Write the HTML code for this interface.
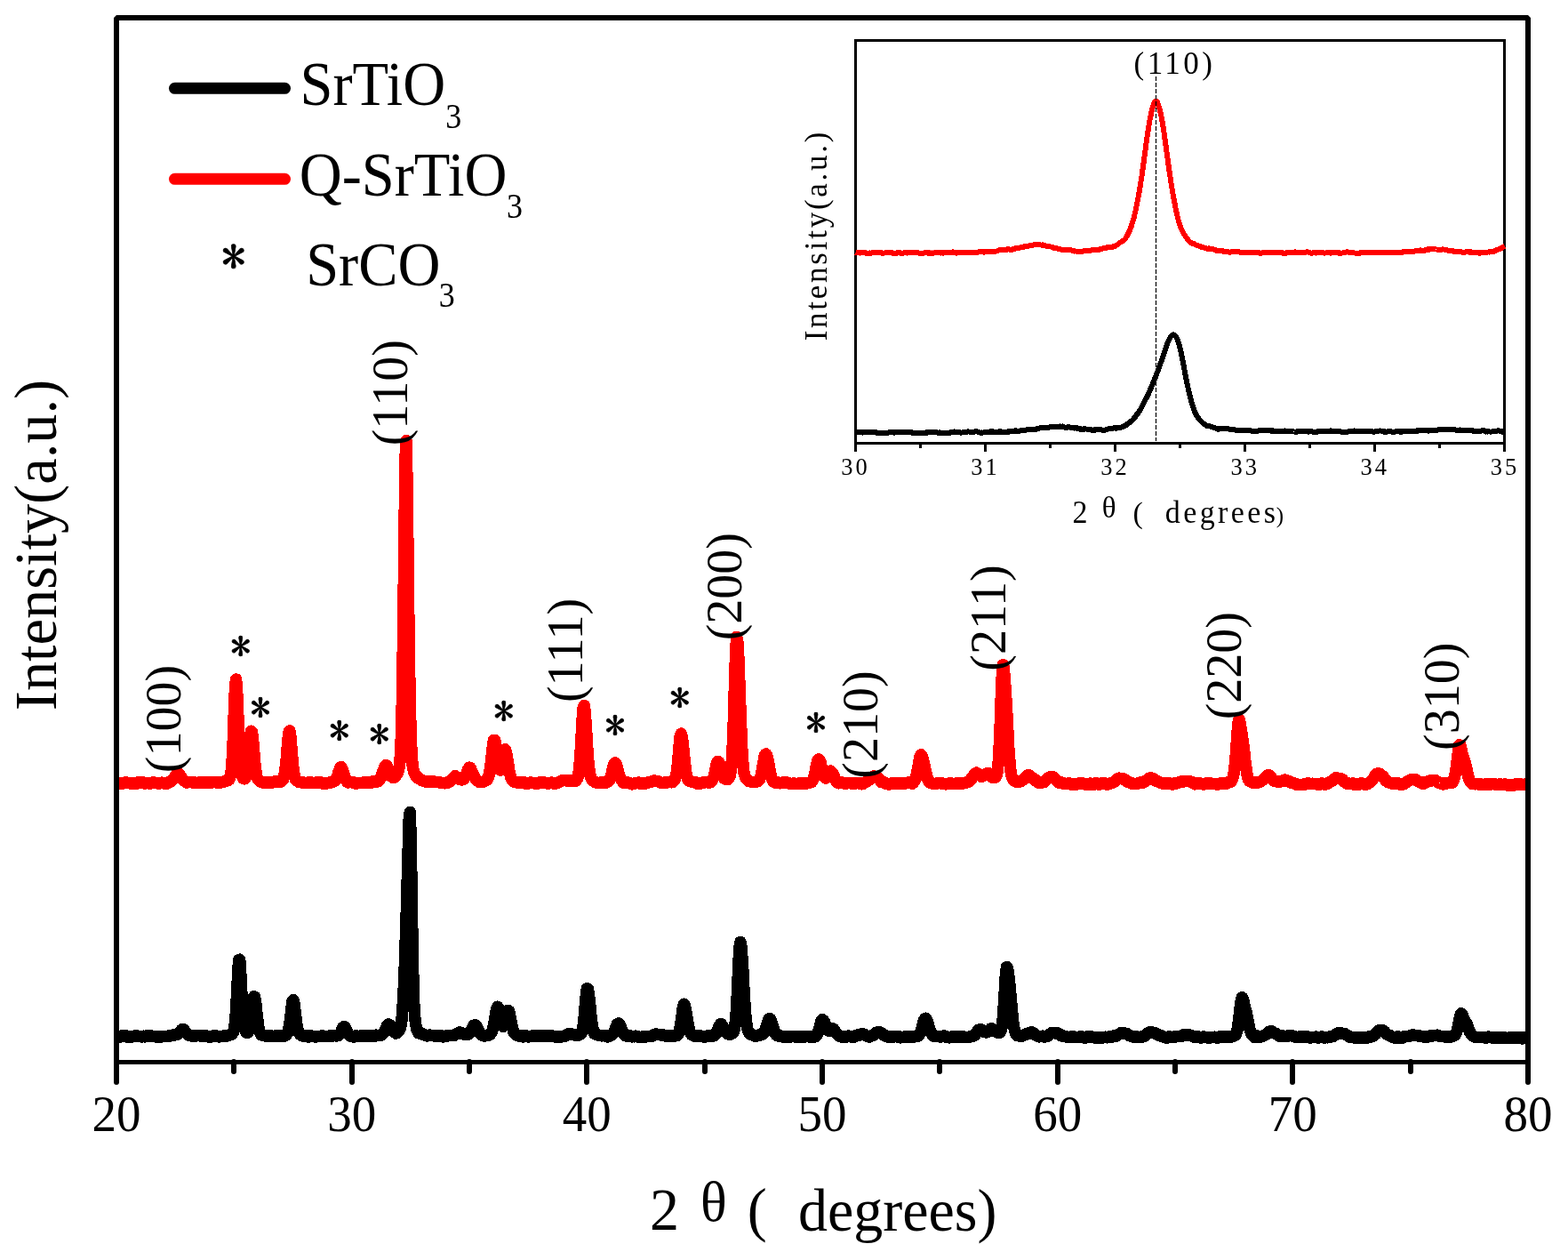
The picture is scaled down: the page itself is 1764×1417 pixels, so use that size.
<!DOCTYPE html><html><head><meta charset="utf-8"><title>XRD</title><style>html,body{margin:0;padding:0;background:#fff;overflow:hidden}svg{display:block}text{font-family:'Liberation Serif',serif;fill:#000}</style></head><body>
<svg width="1764" height="1417" viewBox="0 0 1764 1417">
<rect width="1764" height="1417" fill="#fff"/>
<path d="M131.0,1166.3 132.1,1166.2 133.1,1166.1 134.2,1166.1 135.2,1166.1 136.3,1165.4 137.4,1164.9 138.4,1164.6 139.5,1164.6 140.5,1164.7 141.6,1164.7 142.6,1165.3 143.7,1166.3 144.8,1165.6 145.8,1166.1 146.9,1165.9 147.9,1166.0 149.0,1165.4 150.1,1165.5 151.1,1165.7 152.2,1164.9 153.2,1164.8 154.3,1165.1 155.3,1165.2 156.4,1165.3 157.5,1165.7 158.5,1165.3 159.6,1165.9 160.6,1165.6 161.7,1165.2 162.8,1165.8 163.8,1165.2 164.9,1165.0 165.9,1164.9 167.0,1164.7 168.1,1165.1 169.1,1164.9 170.2,1165.0 171.2,1165.5 172.3,1165.4 173.3,1165.3 174.4,1165.7 175.5,1166.0 176.5,1165.6 177.6,1166.0 178.6,1165.9 179.7,1165.8 180.8,1165.8 181.8,1165.9 182.9,1165.6 183.9,1165.4 185.0,1165.3 186.1,1165.4 187.1,1165.5 188.2,1165.5 189.2,1165.3 190.3,1165.0 191.3,1165.1 192.4,1164.5 193.5,1164.2 194.5,1164.6 195.6,1164.3 196.6,1163.9 197.7,1163.7 198.8,1163.4 199.8,1163.1 200.9,1162.2 201.9,1160.9 203.0,1159.7 204.0,1158.5 205.1,1157.6 206.2,1157.5 207.2,1158.2 208.3,1159.9 209.3,1161.8 210.4,1162.7 211.5,1163.9 212.5,1164.3 213.6,1164.7 214.6,1164.5 215.7,1165.1 216.8,1165.0 217.8,1164.9 218.9,1164.9 219.9,1164.9 221.0,1164.8 222.0,1164.7 223.1,1164.6 224.2,1164.6 225.2,1164.5 226.3,1165.2 227.3,1165.1 228.4,1165.0 229.5,1164.7 230.5,1164.5 231.6,1164.9 232.6,1165.0 233.7,1165.5 234.7,1165.9 235.8,1165.8 236.9,1166.2 237.9,1165.9 239.0,1165.7 240.0,1165.2 241.1,1164.7 242.2,1164.4 243.2,1165.1 244.3,1165.6 245.3,1165.5 246.4,1165.9 247.5,1165.5 248.5,1165.3 249.6,1165.3 250.6,1165.4 251.7,1165.1 252.7,1165.2 253.8,1164.9 254.9,1165.2 255.9,1164.7 257.0,1164.8 258.0,1164.0 259.1,1163.8 260.2,1163.5 261.2,1162.6 262.3,1161.1 263.3,1157.8 264.4,1150.2 265.5,1137.9 266.5,1118.7 267.6,1096.2 268.6,1079.7 269.7,1079.2 270.7,1093.8 271.8,1115.3 272.9,1134.3 273.9,1147.5 275.0,1155.5 276.0,1159.3 277.1,1161.2 278.2,1161.5 279.2,1160.7 280.3,1158.7 281.3,1154.7 282.4,1147.7 283.4,1137.5 284.5,1127.5 285.6,1120.8 286.6,1121.1 287.7,1127.7 288.7,1137.5 289.8,1147.2 290.9,1155.1 291.9,1159.7 293.0,1162.1 294.0,1163.8 295.1,1163.6 296.2,1163.9 297.2,1164.2 298.3,1164.6 299.3,1165.2 300.4,1164.9 301.4,1164.6 302.5,1164.5 303.6,1165.0 304.6,1164.9 305.7,1165.6 306.7,1165.3 307.8,1165.3 308.9,1165.6 309.9,1165.3 311.0,1164.7 312.0,1164.9 313.1,1165.2 314.1,1165.0 315.2,1164.9 316.3,1165.2 317.3,1165.5 318.4,1165.0 319.4,1164.8 320.5,1164.9 321.6,1164.4 322.6,1163.0 323.7,1161.4 324.7,1158.1 325.8,1152.0 326.9,1143.5 327.9,1133.8 329.0,1126.2 330.0,1124.5 331.1,1128.9 332.1,1137.9 333.2,1146.9 334.3,1154.7 335.3,1159.2 336.4,1161.5 337.4,1163.1 338.5,1163.7 339.6,1164.7 340.6,1165.1 341.7,1164.9 342.7,1164.5 343.8,1164.6 344.9,1165.1 345.9,1165.2 347.0,1166.1 348.0,1165.7 349.1,1164.8 350.1,1165.1 351.2,1165.1 352.3,1165.7 353.3,1165.7 354.4,1165.9 355.4,1165.8 356.5,1165.8 357.6,1165.6 358.6,1165.6 359.7,1165.5 360.7,1165.2 361.8,1165.0 362.8,1165.4 363.9,1165.2 365.0,1165.3 366.0,1165.5 367.1,1165.6 368.1,1165.6 369.2,1165.6 370.3,1165.7 371.3,1164.8 372.4,1165.0 373.4,1164.6 374.5,1164.9 375.6,1164.7 376.6,1164.5 377.7,1164.8 378.7,1165.0 379.8,1164.7 380.8,1164.7 381.9,1163.4 383.0,1161.6 384.0,1159.7 385.1,1157.2 386.1,1155.1 387.2,1154.7 388.3,1155.2 389.3,1157.7 390.4,1160.2 391.4,1162.5 392.5,1163.9 393.5,1164.5 394.6,1165.3 395.7,1165.0 396.7,1165.5 397.8,1166.0 398.8,1165.2 399.9,1165.1 401.0,1165.1 402.0,1165.1 403.1,1165.7 404.1,1165.4 405.2,1165.4 406.3,1164.9 407.3,1164.5 408.4,1164.7 409.4,1165.5 410.5,1165.3 411.5,1165.0 412.6,1165.1 413.7,1165.2 414.7,1165.0 415.8,1164.9 416.8,1164.6 417.9,1165.2 419.0,1165.1 420.0,1165.5 421.1,1165.5 422.1,1164.9 423.2,1164.2 424.3,1164.7 425.3,1164.3 426.4,1164.7 427.4,1164.3 428.5,1164.3 429.5,1163.9 430.6,1162.7 431.7,1161.2 432.7,1159.3 433.8,1157.1 434.8,1155.0 435.9,1152.6 437.0,1151.9 438.0,1152.4 439.1,1153.5 440.1,1155.4 441.2,1156.4 442.2,1158.3 443.3,1159.9 444.4,1161.1 445.4,1162.1 446.5,1161.6 447.5,1160.7 448.6,1159.4 449.7,1157.7 450.7,1154.8 451.8,1148.3 452.8,1136.9 453.9,1119.1 455.0,1095.2 456.0,1065.2 457.1,1032.1 458.1,995.3 459.2,956.4 460.2,921.8 461.3,913.4 462.4,953.7 463.4,1023.2 464.5,1085.7 465.5,1124.3 466.6,1143.3 467.7,1152.0 468.7,1156.8 469.8,1160.0 470.8,1161.8 471.9,1162.2 472.9,1162.1 474.0,1161.9 475.1,1162.5 476.1,1163.3 477.2,1163.8 478.2,1163.9 479.3,1164.5 480.4,1165.0 481.4,1164.5 482.5,1164.4 483.5,1164.0 484.6,1164.4 485.7,1164.3 486.7,1164.5 487.8,1164.6 488.8,1165.1 489.9,1165.3 490.9,1165.5 492.0,1165.2 493.1,1164.9 494.1,1164.8 495.2,1164.8 496.2,1164.6 497.3,1164.9 498.4,1165.9 499.4,1165.7 500.5,1165.7 501.5,1165.1 502.6,1164.6 503.7,1164.9 504.7,1164.8 505.8,1164.3 506.8,1164.5 507.9,1164.7 508.9,1164.6 510.0,1164.2 511.1,1164.3 512.1,1163.6 513.2,1162.9 514.2,1162.8 515.3,1162.3 516.4,1161.6 517.4,1161.0 518.5,1161.3 519.5,1161.6 520.6,1162.0 521.6,1163.0 522.7,1163.1 523.8,1163.0 524.8,1163.2 525.9,1163.3 526.9,1163.2 528.0,1162.3 529.1,1161.0 530.1,1159.1 531.2,1156.7 532.2,1154.8 533.3,1152.9 534.4,1152.8 535.4,1153.0 536.5,1154.9 537.5,1157.1 538.6,1158.8 539.6,1161.1 540.7,1162.3 541.8,1163.2 542.8,1164.4 543.9,1164.7 544.9,1165.2 546.0,1164.8 547.1,1164.5 548.1,1164.3 549.2,1164.0 550.2,1163.9 551.3,1163.5 552.3,1161.8 553.4,1160.1 554.5,1157.2 555.5,1153.1 556.6,1147.1 557.6,1140.2 558.7,1134.5 559.8,1132.2 560.8,1133.6 561.9,1138.2 562.9,1143.6 564.0,1149.2 565.1,1153.3 566.1,1154.3 567.2,1152.9 568.2,1149.2 569.3,1144.1 570.3,1139.3 571.4,1136.4 572.5,1136.8 573.5,1141.1 574.6,1146.8 575.6,1151.9 576.7,1156.5 577.8,1160.1 578.8,1162.1 579.9,1163.1 580.9,1164.2 582.0,1164.4 583.1,1164.9 584.1,1164.5 585.2,1164.5 586.2,1164.6 587.3,1165.5 588.3,1166.0 589.4,1165.7 590.5,1165.0 591.5,1164.8 592.6,1165.3 593.6,1165.8 594.7,1165.9 595.8,1165.7 596.8,1165.7 597.9,1165.2 598.9,1165.1 600.0,1165.1 601.0,1164.5 602.1,1164.7 603.2,1165.7 604.2,1165.5 605.3,1165.3 606.3,1165.1 607.4,1165.3 608.5,1164.7 609.5,1165.2 610.6,1164.8 611.6,1165.0 612.7,1164.9 613.8,1164.6 614.8,1165.3 615.9,1164.8 616.9,1165.3 618.0,1165.3 619.0,1165.0 620.1,1165.3 621.2,1164.9 622.2,1165.4 623.3,1165.8 624.3,1165.5 625.4,1165.9 626.5,1165.6 627.5,1166.0 628.6,1166.0 629.6,1165.9 630.7,1166.4 631.7,1165.8 632.8,1165.8 633.9,1165.4 634.9,1165.6 636.0,1165.2 637.0,1164.5 638.1,1163.4 639.2,1163.0 640.2,1163.2 641.3,1162.8 642.3,1162.9 643.4,1163.2 644.5,1163.2 645.5,1163.5 646.6,1163.7 647.6,1164.3 648.7,1164.0 649.7,1164.5 650.8,1163.8 651.9,1163.6 652.9,1163.0 654.0,1162.1 655.0,1158.9 656.1,1153.5 657.2,1144.3 658.2,1132.3 659.3,1119.9 660.3,1111.9 661.4,1112.2 662.5,1118.3 663.5,1128.0 664.6,1139.5 665.6,1148.7 666.7,1155.6 667.7,1160.2 668.8,1162.4 669.9,1163.2 670.9,1163.5 672.0,1163.4 673.0,1164.1 674.1,1164.4 675.2,1164.5 676.2,1164.8 677.3,1164.8 678.3,1164.6 679.4,1164.8 680.4,1165.0 681.5,1164.6 682.6,1165.6 683.6,1165.9 684.7,1165.2 685.7,1165.1 686.8,1164.3 687.9,1163.9 688.9,1163.3 690.0,1162.2 691.0,1160.0 692.1,1157.2 693.2,1154.9 694.2,1152.1 695.3,1151.1 696.3,1151.1 697.4,1152.8 698.4,1155.1 699.5,1157.9 700.6,1160.6 701.6,1162.6 702.7,1164.1 703.7,1164.9 704.8,1164.9 705.9,1165.5 706.9,1165.4 708.0,1165.1 709.0,1165.0 710.1,1165.7 711.1,1165.8 712.2,1165.6 713.3,1165.8 714.3,1165.3 715.4,1165.2 716.4,1165.7 717.5,1165.9 718.6,1166.2 719.6,1166.4 720.7,1166.7 721.7,1166.2 722.8,1166.6 723.9,1166.3 724.9,1165.9 726.0,1166.1 727.0,1165.8 728.1,1165.7 729.1,1165.5 730.2,1165.4 731.3,1165.4 732.3,1165.1 733.4,1165.1 734.4,1164.8 735.5,1164.1 736.6,1163.5 737.6,1163.1 738.7,1163.1 739.7,1163.4 740.8,1163.6 741.9,1163.4 742.9,1163.9 744.0,1164.1 745.0,1164.1 746.1,1164.0 747.1,1164.7 748.2,1164.8 749.3,1164.8 750.3,1164.4 751.4,1164.8 752.4,1165.3 753.5,1165.7 754.6,1165.6 755.6,1164.9 756.7,1165.0 757.7,1165.1 758.8,1165.2 759.8,1164.6 760.9,1164.4 762.0,1164.6 763.0,1163.3 764.1,1160.6 765.1,1155.8 766.2,1149.1 767.3,1140.8 768.3,1133.0 769.4,1129.2 770.4,1130.8 771.5,1136.0 772.6,1142.3 773.6,1149.2 774.7,1154.8 775.7,1159.3 776.8,1161.8 777.8,1163.3 778.9,1163.3 780.0,1164.4 781.0,1164.8 782.1,1165.5 783.1,1165.3 784.2,1164.9 785.3,1164.6 786.3,1164.5 787.4,1164.7 788.4,1165.5 789.5,1165.7 790.5,1165.8 791.6,1165.8 792.7,1166.2 793.7,1165.8 794.8,1165.7 795.8,1165.6 796.9,1164.7 798.0,1164.4 799.0,1164.9 800.1,1165.2 801.1,1165.4 802.2,1164.8 803.3,1164.7 804.3,1164.0 805.4,1162.5 806.4,1161.0 807.5,1158.1 808.5,1155.2 809.6,1153.1 810.7,1151.4 811.7,1152.0 812.8,1153.8 813.8,1155.9 814.9,1157.7 816.0,1159.7 817.0,1160.6 818.1,1162.1 819.1,1163.0 820.2,1163.0 821.3,1162.8 822.3,1163.1 823.4,1162.4 824.4,1161.6 825.5,1160.1 826.5,1156.1 827.6,1147.2 828.7,1132.2 829.7,1110.8 830.8,1086.6 831.8,1066.8 832.9,1059.4 834.0,1064.6 835.0,1078.2 836.1,1096.2 837.1,1116.8 838.2,1133.8 839.2,1147.1 840.3,1154.5 841.4,1158.9 842.4,1161.1 843.5,1162.8 844.5,1163.3 845.6,1163.6 846.7,1163.9 847.7,1164.2 848.8,1164.8 849.8,1165.2 850.9,1164.6 852.0,1164.7 853.0,1164.8 854.1,1164.0 855.1,1164.0 856.2,1163.9 857.2,1163.5 858.3,1163.0 859.4,1162.0 860.4,1159.5 861.5,1156.8 862.5,1152.9 863.6,1149.6 864.7,1146.4 865.7,1145.6 866.8,1146.1 867.8,1148.7 868.9,1152.2 869.9,1155.9 871.0,1159.0 872.1,1161.7 873.1,1163.7 874.2,1164.5 875.2,1164.9 876.3,1164.6 877.4,1164.8 878.4,1165.2 879.5,1165.6 880.5,1165.9 881.6,1165.7 882.7,1165.7 883.7,1166.0 884.8,1166.3 885.8,1166.4 886.9,1166.3 887.9,1166.4 889.0,1165.6 890.1,1165.5 891.1,1165.6 892.2,1165.4 893.2,1165.7 894.3,1166.0 895.4,1166.1 896.4,1165.6 897.5,1166.1 898.5,1166.4 899.6,1166.5 900.7,1166.1 901.7,1165.5 902.8,1165.8 903.8,1165.9 904.9,1166.0 905.9,1165.9 907.0,1165.5 908.1,1165.6 909.1,1165.6 910.2,1165.7 911.2,1166.0 912.3,1166.5 913.4,1166.4 914.4,1165.8 915.5,1166.1 916.5,1165.2 917.6,1165.5 918.6,1164.3 919.7,1162.6 920.8,1159.7 921.8,1156.5 922.9,1152.6 923.9,1148.4 925.0,1146.6 926.1,1147.4 927.1,1148.6 928.2,1151.0 929.2,1154.3 930.3,1156.8 931.4,1158.7 932.4,1159.2 933.5,1158.5 934.5,1157.9 935.6,1156.9 936.6,1156.8 937.7,1157.1 938.8,1158.6 939.8,1160.3 940.9,1161.9 941.9,1162.7 943.0,1164.2 944.1,1165.0 945.1,1165.6 946.2,1165.8 947.2,1165.8 948.3,1165.8 949.3,1166.5 950.4,1166.4 951.5,1166.4 952.5,1165.5 953.6,1165.3 954.6,1165.1 955.7,1165.6 956.8,1165.7 957.8,1165.7 958.9,1166.4 959.9,1166.2 961.0,1166.0 962.1,1165.2 963.1,1164.5 964.2,1164.2 965.2,1164.1 966.3,1164.1 967.3,1163.9 968.4,1163.3 969.5,1162.9 970.5,1163.1 971.6,1163.2 972.6,1163.3 973.7,1164.2 974.8,1165.0 975.8,1165.4 976.9,1165.3 977.9,1166.1 979.0,1165.4 980.1,1165.2 981.1,1164.7 982.2,1164.5 983.2,1163.8 984.3,1162.7 985.3,1161.6 986.4,1161.6 987.5,1160.8 988.5,1160.8 989.6,1160.9 990.6,1161.5 991.7,1162.0 992.8,1162.7 993.8,1163.9 994.9,1164.5 995.9,1165.0 997.0,1165.0 998.0,1165.8 999.1,1166.0 1000.2,1165.9 1001.2,1165.4 1002.3,1166.0 1003.3,1166.0 1004.4,1166.1 1005.5,1165.7 1006.5,1165.8 1007.6,1165.7 1008.6,1165.8 1009.7,1165.8 1010.8,1166.3 1011.8,1166.0 1012.9,1166.8 1013.9,1166.5 1015.0,1166.4 1016.0,1166.3 1017.1,1166.6 1018.2,1166.5 1019.2,1165.6 1020.3,1165.5 1021.3,1165.6 1022.4,1166.1 1023.5,1166.3 1024.5,1166.3 1025.6,1166.1 1026.6,1165.9 1027.7,1166.2 1028.7,1165.4 1029.8,1165.4 1030.9,1165.6 1031.9,1165.3 1033.0,1165.1 1034.0,1164.1 1035.1,1162.4 1036.2,1159.5 1037.2,1156.0 1038.3,1151.5 1039.3,1148.0 1040.4,1145.8 1041.5,1145.2 1042.5,1146.8 1043.6,1149.3 1044.6,1153.4 1045.7,1156.7 1046.7,1159.8 1047.8,1162.2 1048.9,1163.6 1049.9,1165.0 1051.0,1165.2 1052.0,1165.5 1053.1,1165.7 1054.2,1165.4 1055.2,1165.4 1056.3,1165.7 1057.3,1165.9 1058.4,1165.8 1059.5,1165.8 1060.5,1165.7 1061.6,1165.0 1062.6,1165.6 1063.7,1166.0 1064.7,1166.2 1065.8,1166.1 1066.9,1166.5 1067.9,1166.9 1069.0,1166.7 1070.0,1166.2 1071.1,1165.8 1072.2,1166.0 1073.2,1166.2 1074.3,1165.9 1075.3,1166.3 1076.4,1166.4 1077.4,1166.3 1078.5,1165.9 1079.6,1166.1 1080.6,1165.9 1081.7,1166.0 1082.7,1166.4 1083.8,1166.5 1084.9,1166.2 1085.9,1166.7 1087.0,1166.4 1088.0,1166.3 1089.1,1166.6 1090.2,1166.5 1091.2,1165.8 1092.3,1165.9 1093.3,1165.2 1094.4,1165.2 1095.4,1165.0 1096.5,1164.2 1097.6,1163.1 1098.6,1161.4 1099.7,1159.9 1100.7,1158.3 1101.8,1158.0 1102.9,1157.7 1103.9,1158.0 1105.0,1158.5 1106.0,1159.6 1107.1,1160.4 1108.1,1160.5 1109.2,1160.9 1110.3,1160.7 1111.3,1160.1 1112.4,1159.7 1113.4,1158.6 1114.5,1156.9 1115.6,1156.7 1116.6,1157.1 1117.7,1158.0 1118.7,1158.8 1119.8,1159.8 1120.9,1159.9 1121.9,1160.8 1123.0,1161.6 1124.0,1161.4 1125.1,1160.8 1126.1,1159.1 1127.2,1154.2 1128.3,1145.5 1129.3,1130.9 1130.4,1112.9 1131.4,1096.1 1132.5,1087.5 1133.6,1088.8 1134.6,1096.3 1135.7,1105.5 1136.7,1116.0 1137.8,1128.7 1138.9,1140.4 1139.9,1150.2 1141.0,1156.5 1142.0,1160.6 1143.1,1163.1 1144.1,1164.5 1145.2,1164.8 1146.3,1164.5 1147.3,1165.1 1148.4,1164.9 1149.4,1165.3 1150.5,1165.0 1151.6,1164.4 1152.6,1163.9 1153.7,1162.9 1154.7,1162.8 1155.8,1162.9 1156.8,1162.5 1157.9,1161.7 1159.0,1161.2 1160.0,1161.2 1161.1,1161.1 1162.1,1161.5 1163.2,1162.4 1164.3,1162.9 1165.3,1164.1 1166.4,1164.8 1167.4,1165.2 1168.5,1165.8 1169.6,1165.8 1170.6,1165.5 1171.7,1165.6 1172.7,1165.2 1173.8,1165.5 1174.8,1166.1 1175.9,1165.9 1177.0,1165.6 1178.0,1165.4 1179.1,1165.1 1180.1,1163.9 1181.2,1163.1 1182.3,1162.4 1183.3,1161.5 1184.4,1161.3 1185.4,1161.3 1186.5,1161.6 1187.5,1161.3 1188.6,1162.1 1189.7,1161.9 1190.7,1162.7 1191.8,1162.8 1192.8,1164.0 1193.9,1164.7 1195.0,1165.2 1196.0,1165.7 1197.1,1165.2 1198.1,1165.6 1199.2,1165.8 1200.3,1165.9 1201.3,1166.3 1202.4,1166.4 1203.4,1166.4 1204.5,1166.0 1205.5,1166.2 1206.6,1166.0 1207.7,1166.0 1208.7,1166.1 1209.8,1166.3 1210.8,1166.4 1211.9,1166.4 1213.0,1166.7 1214.0,1166.3 1215.1,1166.0 1216.1,1165.9 1217.2,1166.1 1218.3,1166.4 1219.3,1166.6 1220.4,1167.1 1221.4,1166.8 1222.5,1166.3 1223.5,1165.6 1224.6,1166.0 1225.7,1165.9 1226.7,1165.3 1227.8,1165.8 1228.8,1166.2 1229.9,1166.5 1231.0,1166.8 1232.0,1166.6 1233.1,1167.2 1234.1,1166.5 1235.2,1167.0 1236.2,1166.5 1237.3,1166.4 1238.4,1167.0 1239.4,1167.1 1240.5,1166.8 1241.5,1166.7 1242.6,1166.3 1243.7,1166.2 1244.7,1166.7 1245.8,1166.8 1246.8,1166.3 1247.9,1166.1 1249.0,1165.8 1250.0,1165.7 1251.1,1166.0 1252.1,1165.2 1253.2,1165.1 1254.2,1165.1 1255.3,1165.3 1256.4,1164.5 1257.4,1163.8 1258.5,1163.1 1259.5,1162.7 1260.6,1162.1 1261.7,1161.3 1262.7,1161.4 1263.8,1162.1 1264.8,1162.2 1265.9,1162.3 1266.9,1162.2 1268.0,1162.9 1269.1,1163.5 1270.1,1164.3 1271.2,1164.8 1272.2,1165.2 1273.3,1165.3 1274.4,1165.9 1275.4,1165.7 1276.5,1165.9 1277.5,1166.0 1278.6,1165.9 1279.7,1166.4 1280.7,1166.5 1281.8,1166.6 1282.8,1166.2 1283.9,1166.0 1284.9,1166.3 1286.0,1165.7 1287.1,1165.2 1288.1,1164.7 1289.2,1163.8 1290.2,1163.0 1291.3,1161.9 1292.4,1161.3 1293.4,1160.9 1294.5,1160.7 1295.5,1160.7 1296.6,1161.4 1297.7,1161.5 1298.7,1161.6 1299.8,1162.1 1300.8,1162.7 1301.9,1163.6 1302.9,1163.7 1304.0,1164.4 1305.1,1164.2 1306.1,1164.4 1307.2,1165.4 1308.2,1165.4 1309.3,1166.1 1310.4,1166.4 1311.4,1166.7 1312.5,1167.2 1313.5,1167.0 1314.6,1166.1 1315.6,1166.0 1316.7,1166.2 1317.8,1166.3 1318.8,1166.4 1319.9,1166.4 1320.9,1165.9 1322.0,1166.2 1323.1,1165.8 1324.1,1165.4 1325.2,1165.5 1326.2,1165.5 1327.3,1165.3 1328.4,1165.7 1329.4,1165.0 1330.5,1164.2 1331.5,1163.6 1332.6,1163.5 1333.6,1163.7 1334.7,1164.1 1335.8,1164.1 1336.8,1164.1 1337.9,1163.8 1338.9,1164.6 1340.0,1164.8 1341.1,1165.1 1342.1,1165.4 1343.2,1166.2 1344.2,1166.7 1345.3,1166.2 1346.3,1165.6 1347.4,1165.5 1348.5,1166.1 1349.5,1166.6 1350.6,1167.1 1351.6,1166.6 1352.7,1166.4 1353.8,1165.9 1354.8,1166.3 1355.9,1166.2 1356.9,1166.7 1358.0,1166.9 1359.1,1167.2 1360.1,1166.9 1361.2,1167.2 1362.2,1166.6 1363.3,1166.4 1364.3,1166.6 1365.4,1166.3 1366.5,1166.2 1367.5,1166.5 1368.6,1167.0 1369.6,1167.2 1370.7,1166.5 1371.8,1166.1 1372.8,1165.8 1373.9,1166.0 1374.9,1166.4 1376.0,1166.5 1377.1,1166.6 1378.1,1165.8 1379.2,1166.2 1380.2,1165.8 1381.3,1165.8 1382.3,1166.1 1383.4,1166.0 1384.5,1166.1 1385.5,1165.9 1386.6,1165.6 1387.6,1165.4 1388.7,1164.8 1389.8,1164.2 1390.8,1161.8 1391.9,1158.4 1392.9,1152.5 1394.0,1144.4 1395.0,1134.9 1396.1,1126.3 1397.2,1121.7 1398.2,1122.8 1399.3,1127.3 1400.3,1131.7 1401.4,1135.9 1402.5,1139.9 1403.5,1145.6 1404.6,1151.0 1405.6,1156.0 1406.7,1159.7 1407.8,1162.5 1408.8,1164.0 1409.9,1165.3 1410.9,1166.2 1412.0,1165.6 1413.0,1165.4 1414.1,1165.0 1415.2,1165.3 1416.2,1166.3 1417.3,1166.2 1418.3,1166.1 1419.4,1165.6 1420.5,1165.0 1421.5,1164.8 1422.6,1164.1 1423.6,1163.8 1424.7,1163.1 1425.7,1162.4 1426.8,1161.5 1427.9,1160.3 1428.9,1160.1 1430.0,1159.4 1431.0,1159.8 1432.1,1160.8 1433.2,1161.6 1434.2,1162.0 1435.3,1162.1 1436.3,1163.0 1437.4,1163.8 1438.5,1164.4 1439.5,1165.2 1440.6,1165.4 1441.6,1164.9 1442.7,1165.0 1443.7,1165.3 1444.8,1165.6 1445.9,1165.5 1446.9,1165.5 1448.0,1165.2 1449.0,1164.8 1450.1,1164.9 1451.2,1164.4 1452.2,1164.3 1453.3,1164.6 1454.3,1165.1 1455.4,1165.4 1456.5,1165.6 1457.5,1166.4 1458.6,1166.5 1459.6,1166.6 1460.7,1166.4 1461.7,1166.1 1462.8,1165.8 1463.9,1166.2 1464.9,1165.7 1466.0,1165.8 1467.0,1165.8 1468.1,1166.1 1469.2,1166.1 1470.2,1166.4 1471.3,1165.9 1472.3,1166.3 1473.4,1166.9 1474.4,1166.6 1475.5,1166.8 1476.6,1166.3 1477.6,1166.6 1478.7,1166.3 1479.7,1166.2 1480.8,1166.2 1481.9,1166.4 1482.9,1167.1 1484.0,1166.8 1485.0,1166.6 1486.1,1166.2 1487.2,1165.9 1488.2,1166.6 1489.3,1167.0 1490.3,1167.1 1491.4,1166.8 1492.4,1166.4 1493.5,1166.8 1494.6,1166.2 1495.6,1166.1 1496.7,1166.1 1497.7,1165.5 1498.8,1165.8 1499.9,1165.3 1500.9,1164.7 1502.0,1163.6 1503.0,1163.0 1504.1,1162.5 1505.1,1162.0 1506.2,1162.4 1507.3,1161.8 1508.3,1161.8 1509.4,1162.1 1510.4,1162.3 1511.5,1162.4 1512.6,1162.3 1513.6,1163.1 1514.7,1164.0 1515.7,1164.5 1516.8,1164.9 1517.9,1166.0 1518.9,1166.5 1520.0,1166.5 1521.0,1166.5 1522.1,1166.3 1523.1,1166.7 1524.2,1167.0 1525.3,1166.7 1526.3,1166.9 1527.4,1167.0 1528.4,1167.0 1529.5,1167.3 1530.6,1167.1 1531.6,1167.6 1532.7,1167.4 1533.7,1166.9 1534.8,1166.6 1535.9,1166.7 1536.9,1167.4 1538.0,1167.2 1539.0,1166.6 1540.1,1165.9 1541.1,1166.0 1542.2,1165.5 1543.3,1165.9 1544.3,1165.2 1545.4,1164.7 1546.4,1163.8 1547.5,1163.1 1548.6,1161.7 1549.6,1160.5 1550.7,1159.4 1551.7,1158.7 1552.8,1158.7 1553.8,1159.0 1554.9,1158.5 1556.0,1159.5 1557.0,1159.6 1558.1,1160.6 1559.1,1161.9 1560.2,1163.3 1561.3,1163.7 1562.3,1164.2 1563.4,1164.6 1564.4,1164.9 1565.5,1165.9 1566.6,1166.0 1567.6,1166.5 1568.7,1166.6 1569.7,1167.2 1570.8,1167.0 1571.8,1166.5 1572.9,1165.8 1574.0,1166.7 1575.0,1167.0 1576.1,1167.0 1577.1,1167.3 1578.2,1166.2 1579.3,1166.2 1580.3,1165.6 1581.4,1165.3 1582.4,1165.4 1583.5,1165.4 1584.5,1165.4 1585.6,1165.2 1586.7,1164.7 1587.7,1164.6 1588.8,1164.0 1589.8,1163.7 1590.9,1164.3 1592.0,1164.4 1593.0,1164.6 1594.1,1164.4 1595.1,1164.7 1596.2,1164.9 1597.3,1165.4 1598.3,1165.2 1599.4,1165.6 1600.4,1165.6 1601.5,1166.0 1602.5,1165.7 1603.6,1166.1 1604.7,1166.4 1605.7,1165.9 1606.8,1165.9 1607.8,1165.1 1608.9,1165.2 1610.0,1165.3 1611.0,1165.3 1612.1,1164.7 1613.1,1164.7 1614.2,1164.4 1615.3,1164.5 1616.3,1164.3 1617.4,1164.2 1618.4,1164.8 1619.5,1165.5 1620.5,1165.6 1621.6,1165.5 1622.7,1165.4 1623.7,1165.7 1624.8,1165.8 1625.8,1165.9 1626.9,1166.2 1628.0,1165.9 1629.0,1166.5 1630.1,1166.6 1631.1,1166.6 1632.2,1165.8 1633.2,1165.1 1634.3,1165.5 1635.4,1165.0 1636.4,1164.4 1637.5,1163.4 1638.5,1161.1 1639.6,1157.5 1640.7,1152.6 1641.7,1147.0 1642.8,1142.2 1643.8,1139.8 1644.9,1140.4 1646.0,1143.6 1647.0,1145.9 1648.1,1148.0 1649.1,1149.7 1650.2,1151.1 1651.2,1154.3 1652.3,1157.3 1653.4,1160.3 1654.4,1162.2 1655.5,1163.6 1656.5,1164.7 1657.6,1165.5 1658.7,1166.0 1659.7,1166.1 1660.8,1166.5 1661.8,1166.6 1662.9,1166.6 1663.9,1166.6 1665.0,1166.7 1666.1,1166.3 1667.1,1166.6 1668.2,1166.4 1669.2,1166.6 1670.3,1166.8 1671.4,1167.2 1672.4,1167.1 1673.5,1166.4 1674.5,1166.1 1675.6,1166.4 1676.7,1166.3 1677.7,1166.5 1678.8,1166.7 1679.8,1167.5 1680.9,1167.4 1681.9,1167.3 1683.0,1167.2 1684.1,1166.7 1685.1,1167.2 1686.2,1167.1 1687.2,1167.2 1688.3,1167.2 1689.4,1166.7 1690.4,1166.3 1691.5,1166.4 1692.5,1167.2 1693.6,1167.0 1694.7,1167.3 1695.7,1167.4 1696.8,1167.6 1697.8,1167.2 1698.9,1166.7 1699.9,1167.0 1701.0,1167.1 1702.1,1167.1 1703.1,1167.4 1704.2,1167.4 1705.2,1167.0 1706.3,1167.3 1707.4,1167.5 1708.4,1167.1 1709.5,1166.8 1710.5,1166.9 1711.6,1167.6 1712.6,1167.9 1713.7,1167.7 1714.8,1167.4 1715.8,1166.7 1716.9,1166.6 1717.9,1167.3 1719.0,1167.0" fill="none" stroke="#000" stroke-width="13.5" stroke-linejoin="round" stroke-linecap="butt" shape-rendering="crispEdges"/>
<path d="M131.0,879.6 132.1,880.2 133.1,880.8 134.2,881.0 135.2,881.0 136.3,881.2 137.4,881.1 138.4,880.8 139.5,880.5 140.5,880.1 141.6,880.0 142.6,880.1 143.7,880.4 144.8,880.6 145.8,880.8 146.9,880.7 147.9,880.6 149.0,881.0 150.1,880.8 151.1,881.1 152.2,880.9 153.2,881.2 154.3,881.1 155.3,880.0 156.4,879.7 157.5,879.9 158.5,879.8 159.6,879.7 160.6,879.8 161.7,880.7 162.8,881.0 163.8,880.8 164.9,880.8 165.9,880.5 167.0,880.7 168.1,881.1 169.1,881.1 170.2,880.6 171.2,880.2 172.3,879.8 173.3,880.0 174.4,880.3 175.5,880.3 176.5,880.6 177.6,880.8 178.6,881.1 179.7,880.8 180.8,880.4 181.8,880.2 182.9,880.5 183.9,880.9 185.0,881.0 186.1,880.8 187.1,881.1 188.2,881.1 189.2,880.4 190.3,879.3 191.3,879.2 192.4,878.5 193.5,877.8 194.5,876.4 195.6,875.5 196.6,874.2 197.7,872.1 198.8,870.4 199.8,869.9 200.9,869.6 201.9,870.8 203.0,872.4 204.0,874.0 205.1,875.6 206.2,877.2 207.2,878.1 208.3,878.7 209.3,879.3 210.4,880.1 211.5,879.6 212.5,879.3 213.6,879.7 214.6,879.6 215.7,879.7 216.8,879.9 217.8,880.1 218.9,879.9 219.9,880.4 221.0,880.4 222.0,880.5 223.1,880.2 224.2,880.3 225.2,879.9 226.3,880.0 227.3,879.7 228.4,880.1 229.5,880.2 230.5,879.8 231.6,879.7 232.6,880.2 233.7,880.1 234.7,880.4 235.8,879.9 236.9,880.4 237.9,880.0 239.0,879.7 240.0,879.7 241.1,879.6 242.2,879.5 243.2,879.4 244.3,880.3 245.3,880.2 246.4,880.6 247.5,879.9 248.5,880.0 249.6,879.8 250.6,879.6 251.7,879.2 252.7,879.0 253.8,878.1 254.9,877.5 255.9,877.7 257.0,877.4 258.0,876.6 259.1,873.4 260.2,867.4 261.2,854.7 262.3,832.6 263.3,803.1 264.4,775.6 265.5,764.0 266.5,774.2 267.6,799.7 268.6,828.1 269.7,850.8 270.7,864.7 271.8,871.1 272.9,874.0 273.9,875.6 275.0,875.9 276.0,875.3 277.1,872.5 278.2,866.7 279.2,857.5 280.3,844.1 281.3,831.2 282.4,822.2 283.4,822.8 284.5,831.6 285.6,844.6 286.6,857.1 287.7,866.6 288.7,872.7 289.8,875.5 290.9,877.3 291.9,878.1 293.0,879.0 294.0,879.1 295.1,879.8 296.2,880.3 297.2,880.4 298.3,879.9 299.3,880.4 300.4,880.4 301.4,879.8 302.5,879.7 303.6,879.9 304.6,880.3 305.7,879.9 306.7,880.0 307.8,879.5 308.9,878.8 309.9,879.4 311.0,878.8 312.0,878.9 313.1,879.4 314.1,879.2 315.2,879.4 316.3,878.8 317.3,878.1 318.4,877.0 319.4,874.5 320.5,868.8 321.6,860.3 322.6,849.0 323.7,835.0 324.7,824.5 325.8,821.9 326.9,828.5 327.9,840.8 329.0,854.4 330.0,865.0 331.1,871.9 332.1,875.8 333.2,877.5 334.3,878.2 335.3,878.9 336.4,879.5 337.4,879.5 338.5,879.4 339.6,879.5 340.6,880.2 341.7,880.2 342.7,880.3 343.8,880.6 344.9,880.6 345.9,880.4 347.0,880.0 348.0,880.2 349.1,880.1 350.1,879.9 351.2,880.5 352.3,880.3 353.3,880.5 354.4,880.3 355.4,880.0 356.5,879.8 357.6,879.8 358.6,879.5 359.7,880.0 360.7,879.7 361.8,880.7 362.8,881.0 363.9,881.1 365.0,880.7 366.0,880.8 367.1,881.2 368.1,880.6 369.2,880.3 370.3,880.6 371.3,879.7 372.4,879.9 373.4,879.7 374.5,879.1 375.6,878.8 376.6,878.4 377.7,877.5 378.7,874.9 379.8,872.4 380.8,868.7 381.9,865.8 383.0,863.0 384.0,862.7 385.1,865.0 386.1,868.5 387.2,871.7 388.3,874.6 389.3,877.4 390.4,879.1 391.4,880.0 392.5,879.8 393.5,879.6 394.6,879.4 395.7,879.8 396.7,879.9 397.8,880.0 398.8,880.6 399.9,881.0 401.0,881.0 402.0,880.5 403.1,880.6 404.1,880.3 405.2,880.6 406.3,880.3 407.3,880.3 408.4,880.1 409.4,879.9 410.5,880.0 411.5,880.0 412.6,879.9 413.7,879.8 414.7,880.1 415.8,880.5 416.8,880.3 417.9,880.0 419.0,879.3 420.0,878.5 421.1,879.2 422.1,879.6 423.2,879.4 424.3,879.1 425.3,878.6 426.4,877.7 427.4,876.6 428.5,874.5 429.5,871.8 430.6,868.3 431.7,865.4 432.7,862.2 433.8,860.7 434.8,860.8 435.9,863.2 437.0,865.4 438.0,868.3 439.1,870.7 440.1,872.7 441.2,873.8 442.2,874.4 443.3,874.3 444.4,873.6 445.4,872.1 446.5,870.8 447.5,868.5 448.6,865.1 449.7,858.6 450.7,845.2 451.8,817.0 452.8,765.1 453.9,687.6 455.0,593.9 456.0,515.3 457.1,495.7 458.1,549.8 459.2,640.7 460.2,728.7 461.3,793.7 462.4,833.2 463.4,853.4 464.5,863.3 465.5,867.6 466.6,870.4 467.7,872.4 468.7,873.2 469.8,874.3 470.8,875.5 471.9,876.0 472.9,876.6 474.0,877.2 475.1,877.9 476.1,878.2 477.2,878.2 478.2,878.4 479.3,879.2 480.4,879.2 481.4,879.0 482.5,879.5 483.5,878.9 484.6,879.1 485.7,879.2 486.7,879.0 487.8,878.8 488.8,879.5 489.9,879.4 490.9,879.6 492.0,879.6 493.1,879.3 494.1,879.7 495.2,880.0 496.2,880.4 497.3,880.4 498.4,880.6 499.4,880.7 500.5,880.8 501.5,880.2 502.6,880.0 503.7,880.1 504.7,879.8 505.8,879.1 506.8,878.3 507.9,877.4 508.9,876.7 510.0,875.4 511.1,873.9 512.1,872.7 513.2,873.4 514.2,873.9 515.3,874.6 516.4,875.5 517.4,876.5 518.5,876.7 519.5,877.0 520.6,876.6 521.6,876.1 522.7,874.7 523.8,872.8 524.8,870.0 525.9,867.2 526.9,864.7 528.0,863.2 529.1,863.5 530.1,865.7 531.2,868.4 532.2,870.6 533.3,873.0 534.4,874.7 535.4,876.3 536.5,877.5 537.5,878.2 538.6,878.7 539.6,879.6 540.7,879.3 541.8,879.5 542.8,879.5 543.9,879.1 544.9,878.7 546.0,878.0 547.1,877.4 548.1,876.7 549.2,874.8 550.2,871.0 551.3,865.6 552.3,857.8 553.4,848.1 554.5,838.4 555.5,832.5 556.6,832.5 557.6,837.0 558.7,845.4 559.8,854.0 560.8,861.1 561.9,865.6 562.9,866.0 564.0,863.2 565.1,857.4 566.1,850.3 567.2,844.8 568.2,842.8 569.3,845.4 570.3,850.6 571.4,857.6 572.5,865.0 573.5,869.9 574.6,873.7 575.6,876.1 576.7,877.6 577.8,878.5 578.8,879.4 579.9,879.5 580.9,879.8 582.0,879.8 583.1,880.2 584.1,879.9 585.2,879.5 586.2,879.5 587.3,880.1 588.3,879.6 589.4,879.8 590.5,880.7 591.5,881.2 592.6,881.4 593.6,880.7 594.7,880.8 595.8,880.8 596.8,880.0 597.9,880.3 598.9,880.7 600.0,880.7 601.0,880.9 602.1,880.9 603.2,881.4 604.2,881.6 605.3,880.6 606.3,880.3 607.4,879.9 608.5,880.1 609.5,879.7 610.6,879.8 611.6,879.9 612.7,880.1 613.8,880.4 614.8,880.6 615.9,881.0 616.9,881.2 618.0,880.5 619.0,880.3 620.1,880.2 621.2,880.1 622.2,880.7 623.3,881.1 624.3,880.5 625.4,880.9 626.5,880.2 627.5,880.1 628.6,880.0 629.6,879.1 630.7,878.7 631.7,877.9 632.8,877.6 633.9,877.6 634.9,877.4 636.0,877.7 637.0,877.9 638.1,877.7 639.2,877.7 640.2,878.3 641.3,878.2 642.3,878.4 643.4,878.1 644.5,878.7 645.5,878.2 646.6,878.4 647.6,878.3 648.7,877.0 649.7,875.1 650.8,870.6 651.9,862.7 652.9,849.6 654.0,831.0 655.0,811.1 656.1,796.7 657.2,793.4 658.2,801.0 659.3,816.1 660.3,834.6 661.4,851.0 662.5,863.1 663.5,870.0 664.6,874.1 665.6,876.1 666.7,877.6 667.7,878.2 668.8,879.2 669.9,879.7 670.9,880.1 672.0,880.3 673.0,880.5 674.1,880.4 675.2,880.4 676.2,879.7 677.3,880.0 678.3,880.1 679.4,880.4 680.4,880.3 681.5,880.1 682.6,879.7 683.6,879.1 684.7,878.6 685.7,877.6 686.8,874.9 687.9,871.3 688.9,866.5 690.0,861.8 691.0,858.5 692.1,857.7 693.2,859.2 694.2,862.9 695.3,867.1 696.3,871.1 697.4,874.4 698.4,876.2 699.5,877.6 700.6,879.1 701.6,880.5 702.7,880.7 703.7,880.3 704.8,879.7 705.9,879.7 706.9,880.3 708.0,880.6 709.0,881.0 710.1,881.4 711.1,881.8 712.2,881.4 713.3,881.4 714.3,881.1 715.4,880.6 716.4,880.7 717.5,880.2 718.6,880.1 719.6,880.8 720.7,881.3 721.7,881.1 722.8,881.1 723.9,881.6 724.9,881.2 726.0,881.1 727.0,880.7 728.1,880.3 729.1,880.0 730.2,879.6 731.3,879.4 732.3,879.4 733.4,878.7 734.4,878.2 735.5,878.3 736.6,878.0 737.6,878.3 738.7,878.3 739.7,878.9 740.8,878.7 741.9,879.5 742.9,880.0 744.0,880.6 745.0,880.5 746.1,880.6 747.1,880.2 748.2,880.3 749.3,880.1 750.3,879.9 751.4,879.8 752.4,879.6 753.5,879.3 754.6,879.7 755.6,879.8 756.7,879.6 757.7,878.6 758.8,877.5 759.8,874.8 760.9,870.5 762.0,863.1 763.0,852.3 764.1,839.3 765.1,828.7 766.2,825.1 767.3,828.5 768.3,836.6 769.4,846.9 770.4,857.8 771.5,866.8 772.6,872.8 773.6,876.1 774.7,877.6 775.7,878.2 776.8,878.8 777.8,878.8 778.9,879.2 780.0,879.7 781.0,879.5 782.1,880.2 783.1,880.0 784.2,881.1 785.3,880.9 786.3,881.3 787.4,881.1 788.4,880.7 789.5,880.9 790.5,880.0 791.6,880.3 792.7,879.9 793.7,879.8 794.8,879.4 795.8,879.8 796.9,879.8 798.0,880.1 799.0,879.9 800.1,879.2 801.1,877.6 802.2,876.1 803.3,872.9 804.3,868.4 805.4,863.1 806.4,858.5 807.5,856.4 808.5,856.8 809.6,859.8 810.7,863.5 811.7,867.3 812.8,871.3 813.8,873.7 814.9,875.6 816.0,876.0 817.0,876.5 818.1,876.2 819.1,876.4 820.2,874.8 821.3,871.9 822.3,865.9 823.4,854.6 824.4,835.3 825.5,805.6 826.5,768.6 827.6,734.4 828.7,716.3 829.7,720.1 830.8,738.9 831.8,766.1 832.9,796.9 834.0,825.9 835.0,847.5 836.1,862.0 837.1,869.5 838.2,873.0 839.2,875.3 840.3,876.7 841.4,877.5 842.4,878.6 843.5,878.6 844.5,879.0 845.6,879.4 846.7,879.5 847.7,879.3 848.8,879.7 849.8,879.5 850.9,878.9 852.0,878.9 853.0,878.2 854.1,877.3 855.1,875.3 856.2,871.9 857.2,866.6 858.3,860.7 859.4,854.4 860.4,849.2 861.5,847.9 862.5,849.2 863.6,852.7 864.7,858.3 865.7,864.5 866.8,869.5 867.8,874.4 868.9,876.9 869.9,878.9 871.0,879.5 872.1,880.1 873.1,879.4 874.2,879.5 875.2,880.3 876.3,880.5 877.4,880.8 878.4,880.5 879.5,880.2 880.5,880.1 881.6,880.3 882.7,880.3 883.7,879.9 884.8,880.1 885.8,880.2 886.9,880.3 887.9,880.9 889.0,881.4 890.1,881.3 891.1,881.4 892.2,881.2 893.2,881.1 894.3,881.2 895.4,881.3 896.4,881.7 897.5,881.4 898.5,881.1 899.6,880.5 900.7,880.5 901.7,881.3 902.8,881.3 903.8,881.4 904.9,880.9 905.9,881.1 907.0,881.1 908.1,880.7 909.1,880.6 910.2,880.3 911.2,880.1 912.3,879.5 913.4,879.2 914.4,877.6 915.5,874.9 916.5,871.0 917.6,865.7 918.6,860.1 919.7,855.8 920.8,853.8 921.8,854.4 922.9,856.7 923.9,861.2 925.0,865.9 926.1,869.9 927.1,873.0 928.2,874.8 929.2,875.0 930.3,874.2 931.4,872.2 932.4,869.7 933.5,867.7 934.5,867.0 935.6,868.3 936.6,869.3 937.7,871.8 938.8,874.2 939.8,876.8 940.9,878.7 941.9,879.7 943.0,880.8 944.1,880.7 945.1,880.5 946.2,880.6 947.2,879.9 948.3,880.2 949.3,880.9 950.4,881.3 951.5,881.4 952.5,880.8 953.6,880.3 954.6,880.5 955.7,880.5 956.8,880.5 957.8,880.8 958.9,881.2 959.9,881.7 961.0,881.3 962.1,880.5 963.1,880.6 964.2,880.4 965.2,880.4 966.3,880.7 967.3,881.2 968.4,881.7 969.5,881.8 970.5,881.6 971.6,880.7 972.6,880.1 973.7,879.8 974.8,879.1 975.8,878.3 976.9,877.7 977.9,876.6 979.0,875.6 980.1,874.7 981.1,873.7 982.2,873.4 983.2,873.0 984.3,873.2 985.3,873.9 986.4,874.7 987.5,874.8 988.5,875.6 989.6,876.8 990.6,878.2 991.7,879.6 992.8,879.7 993.8,880.2 994.9,879.9 995.9,880.9 997.0,881.3 998.0,881.8 999.1,881.8 1000.2,881.5 1001.2,881.8 1002.3,881.3 1003.3,880.9 1004.4,880.8 1005.5,880.7 1006.5,880.9 1007.6,881.1 1008.6,880.8 1009.7,881.3 1010.8,881.0 1011.8,881.1 1012.9,880.6 1013.9,880.5 1015.0,880.4 1016.0,881.4 1017.1,881.1 1018.2,881.0 1019.2,880.4 1020.3,880.4 1021.3,880.2 1022.4,880.1 1023.5,880.1 1024.5,880.0 1025.6,880.5 1026.6,881.1 1027.7,879.9 1028.7,878.6 1029.8,876.4 1030.9,873.0 1031.9,868.0 1033.0,862.5 1034.0,855.8 1035.1,850.5 1036.2,848.8 1037.2,850.3 1038.3,853.2 1039.3,858.0 1040.4,862.9 1041.5,867.9 1042.5,871.8 1043.6,875.7 1044.6,878.0 1045.7,880.0 1046.7,880.4 1047.8,880.7 1048.9,881.0 1049.9,881.2 1051.0,881.7 1052.0,881.6 1053.1,881.4 1054.2,880.8 1055.2,880.3 1056.3,880.6 1057.3,880.7 1058.4,881.0 1059.5,880.9 1060.5,881.5 1061.6,881.7 1062.6,881.7 1063.7,881.8 1064.7,881.8 1065.8,881.5 1066.9,881.7 1067.9,881.0 1069.0,881.4 1070.0,881.4 1071.1,881.2 1072.2,881.3 1073.2,881.7 1074.3,881.5 1075.3,881.6 1076.4,881.2 1077.4,880.5 1078.5,881.0 1079.6,880.7 1080.6,881.1 1081.7,881.0 1082.7,881.1 1083.8,880.7 1084.9,880.3 1085.9,880.4 1087.0,880.2 1088.0,879.7 1089.1,879.3 1090.2,879.0 1091.2,878.2 1092.3,876.9 1093.3,874.8 1094.4,873.7 1095.4,872.0 1096.5,871.0 1097.6,869.5 1098.6,869.1 1099.7,869.9 1100.7,870.4 1101.8,871.3 1102.9,872.6 1103.9,873.3 1105.0,873.1 1106.0,872.2 1107.1,871.7 1108.1,870.9 1109.2,870.3 1110.3,869.7 1111.3,869.3 1112.4,870.1 1113.4,870.7 1114.5,872.1 1115.6,873.0 1116.6,874.2 1117.7,874.6 1118.7,874.7 1119.8,874.4 1120.9,872.5 1121.9,868.3 1123.0,860.0 1124.0,844.6 1125.1,819.8 1126.1,789.7 1127.2,761.6 1128.3,747.7 1129.3,751.2 1130.4,764.5 1131.4,779.6 1132.5,797.3 1133.6,817.8 1134.6,838.2 1135.7,853.9 1136.7,865.6 1137.8,871.7 1138.9,875.2 1139.9,877.1 1141.0,878.1 1142.0,878.6 1143.1,879.0 1144.1,879.4 1145.2,879.6 1146.3,879.1 1147.3,879.0 1148.4,878.9 1149.4,877.8 1150.5,877.2 1151.6,876.6 1152.6,875.7 1153.7,875.1 1154.7,873.4 1155.8,872.3 1156.8,871.8 1157.9,872.0 1159.0,873.0 1160.0,874.0 1161.1,874.6 1162.1,875.2 1163.2,875.7 1164.3,876.8 1165.3,878.0 1166.4,878.8 1167.4,879.2 1168.5,880.4 1169.6,880.5 1170.6,880.4 1171.7,880.0 1172.7,879.2 1173.8,879.1 1174.8,879.4 1175.9,878.4 1177.0,877.3 1178.0,876.2 1179.1,875.4 1180.1,874.4 1181.2,874.0 1182.3,874.0 1183.3,873.9 1184.4,874.0 1185.4,874.0 1186.5,875.4 1187.5,876.7 1188.6,877.7 1189.7,878.2 1190.7,879.3 1191.8,880.5 1192.8,880.6 1193.9,879.9 1195.0,880.1 1196.0,880.6 1197.1,881.7 1198.1,881.6 1199.2,881.6 1200.3,881.3 1201.3,881.1 1202.4,880.8 1203.4,881.7 1204.5,882.0 1205.5,882.3 1206.6,882.1 1207.7,882.6 1208.7,882.0 1209.8,881.8 1210.8,881.8 1211.9,881.9 1213.0,881.2 1214.0,881.1 1215.1,881.0 1216.1,880.7 1217.2,881.3 1218.3,881.0 1219.3,881.8 1220.4,881.8 1221.4,881.6 1222.5,882.4 1223.5,881.9 1224.6,882.4 1225.7,881.2 1226.7,881.1 1227.8,881.6 1228.8,881.7 1229.9,882.4 1231.0,881.6 1232.0,881.5 1233.1,880.7 1234.1,881.3 1235.2,881.7 1236.2,882.1 1237.3,881.9 1238.4,881.1 1239.4,880.7 1240.5,881.0 1241.5,880.9 1242.6,880.9 1243.7,881.5 1244.7,881.6 1245.8,882.2 1246.8,881.7 1247.9,881.4 1249.0,880.8 1250.0,880.5 1251.1,880.2 1252.1,880.0 1253.2,879.3 1254.2,878.7 1255.3,877.5 1256.4,876.9 1257.4,875.9 1258.5,875.2 1259.5,875.2 1260.6,875.3 1261.7,875.6 1262.7,875.9 1263.8,876.0 1264.8,876.3 1265.9,877.2 1266.9,878.0 1268.0,878.8 1269.1,879.4 1270.1,879.6 1271.2,880.1 1272.2,880.3 1273.3,881.0 1274.4,881.6 1275.4,881.6 1276.5,881.5 1277.5,881.5 1278.6,881.5 1279.7,881.0 1280.7,880.5 1281.8,880.3 1282.8,880.2 1283.9,879.4 1284.9,879.7 1286.0,880.2 1287.1,879.5 1288.1,878.8 1289.2,878.1 1290.2,877.4 1291.3,876.4 1292.4,875.6 1293.4,875.0 1294.5,874.9 1295.5,875.1 1296.6,875.3 1297.7,876.2 1298.7,876.5 1299.8,877.9 1300.8,878.5 1301.9,878.6 1302.9,878.8 1304.0,879.6 1305.1,880.2 1306.1,880.6 1307.2,881.0 1308.2,880.6 1309.3,880.7 1310.4,880.8 1311.4,881.4 1312.5,881.2 1313.5,880.7 1314.6,881.0 1315.6,881.1 1316.7,881.1 1317.8,881.3 1318.8,882.0 1319.9,881.7 1320.9,881.0 1322.0,881.2 1323.1,880.9 1324.1,880.9 1325.2,880.6 1326.2,880.1 1327.3,879.5 1328.4,879.0 1329.4,878.8 1330.5,879.1 1331.5,878.4 1332.6,878.3 1333.6,878.6 1334.7,878.3 1335.8,878.4 1336.8,878.6 1337.9,878.6 1338.9,879.0 1340.0,879.3 1341.1,879.6 1342.1,880.7 1343.2,881.2 1344.2,881.8 1345.3,881.1 1346.3,881.4 1347.4,881.1 1348.5,881.3 1349.5,881.5 1350.6,881.1 1351.6,881.4 1352.7,881.7 1353.8,882.1 1354.8,881.7 1355.9,881.2 1356.9,881.3 1358.0,881.2 1359.1,880.8 1360.1,880.9 1361.2,880.9 1362.2,881.1 1363.3,881.5 1364.3,881.3 1365.4,881.5 1366.5,881.5 1367.5,881.8 1368.6,881.8 1369.6,881.8 1370.7,881.9 1371.8,881.2 1372.8,881.1 1373.9,881.1 1374.9,881.1 1376.0,881.4 1377.1,881.3 1378.1,881.0 1379.2,881.4 1380.2,881.1 1381.3,879.8 1382.3,879.3 1383.4,879.1 1384.5,879.2 1385.5,878.4 1386.6,876.0 1387.6,872.4 1388.7,866.2 1389.8,855.7 1390.8,841.3 1391.9,825.8 1392.9,813.5 1394.0,809.0 1395.0,812.6 1396.1,819.9 1397.2,826.7 1398.2,833.2 1399.3,841.1 1400.3,851.1 1401.4,860.0 1402.5,867.9 1403.5,873.4 1404.6,876.7 1405.6,878.5 1406.7,878.7 1407.8,879.1 1408.8,879.9 1409.9,880.5 1410.9,880.5 1412.0,880.3 1413.0,880.4 1414.1,879.6 1415.2,880.0 1416.2,879.9 1417.3,879.0 1418.3,879.1 1419.4,878.1 1420.5,877.2 1421.5,876.2 1422.6,875.2 1423.6,874.3 1424.7,872.9 1425.7,872.1 1426.8,871.7 1427.9,872.0 1428.9,873.2 1430.0,874.7 1431.0,875.4 1432.1,877.1 1433.2,878.1 1434.2,878.4 1435.3,878.6 1436.3,878.8 1437.4,879.3 1438.5,879.4 1439.5,879.2 1440.6,879.0 1441.6,878.7 1442.7,878.4 1443.7,877.8 1444.8,877.5 1445.9,877.1 1446.9,877.3 1448.0,878.0 1449.0,878.2 1450.1,878.7 1451.2,879.0 1452.2,880.0 1453.3,880.5 1454.3,880.8 1455.4,880.9 1456.5,881.0 1457.5,881.4 1458.6,882.2 1459.6,882.4 1460.7,882.2 1461.7,882.6 1462.8,882.7 1463.9,882.6 1464.9,882.4 1466.0,882.3 1467.0,882.0 1468.1,881.9 1469.2,881.8 1470.2,881.1 1471.3,881.1 1472.3,881.1 1473.4,881.5 1474.4,881.7 1475.5,881.6 1476.6,881.2 1477.6,881.4 1478.7,881.6 1479.7,881.5 1480.8,881.6 1481.9,882.1 1482.9,882.0 1484.0,882.3 1485.0,881.7 1486.1,881.6 1487.2,880.9 1488.2,881.2 1489.3,881.7 1490.3,882.1 1491.4,881.9 1492.4,881.7 1493.5,881.3 1494.6,880.4 1495.6,879.7 1496.7,879.2 1497.7,878.8 1498.8,878.0 1499.9,876.9 1500.9,876.1 1502.0,875.6 1503.0,874.7 1504.1,874.9 1505.1,875.3 1506.2,875.7 1507.3,875.7 1508.3,875.8 1509.4,875.9 1510.4,876.8 1511.5,878.9 1512.6,879.3 1513.6,880.0 1514.7,880.7 1515.7,881.3 1516.8,881.0 1517.9,881.2 1518.9,881.7 1520.0,881.4 1521.0,881.2 1522.1,881.1 1523.1,881.2 1524.2,882.4 1525.3,882.5 1526.3,882.0 1527.4,882.2 1528.4,882.2 1529.5,882.0 1530.6,881.7 1531.6,880.8 1532.7,881.1 1533.7,881.7 1534.8,882.0 1535.9,882.2 1536.9,881.9 1538.0,881.9 1539.0,881.3 1540.1,880.6 1541.1,880.2 1542.2,879.1 1543.3,878.0 1544.3,876.7 1545.4,874.9 1546.4,873.2 1547.5,871.3 1548.6,870.3 1549.6,870.3 1550.7,869.8 1551.7,870.1 1552.8,870.7 1553.8,871.8 1554.9,872.4 1556.0,873.4 1557.0,874.7 1558.1,876.3 1559.1,878.0 1560.2,878.6 1561.3,879.8 1562.3,879.8 1563.4,880.3 1564.4,880.7 1565.5,881.0 1566.6,880.9 1567.6,881.3 1568.7,880.9 1569.7,881.2 1570.8,881.3 1571.8,880.8 1572.9,880.7 1574.0,881.3 1575.0,882.0 1576.1,881.9 1577.1,881.8 1578.2,881.8 1579.3,881.9 1580.3,881.1 1581.4,880.3 1582.4,879.1 1583.5,878.9 1584.5,878.4 1585.6,877.9 1586.7,877.2 1587.7,876.5 1588.8,876.3 1589.8,876.7 1590.9,876.9 1592.0,876.5 1593.0,877.1 1594.1,877.9 1595.1,878.5 1596.2,879.3 1597.3,879.3 1598.3,879.7 1599.4,880.4 1600.4,881.3 1601.5,881.0 1602.5,880.9 1603.6,879.7 1604.7,879.3 1605.7,879.3 1606.8,878.5 1607.8,878.2 1608.9,878.1 1610.0,877.9 1611.0,877.8 1612.1,877.6 1613.1,877.5 1614.2,877.3 1615.3,877.9 1616.3,878.7 1617.4,879.5 1618.4,879.9 1619.5,880.5 1620.5,880.5 1621.6,880.9 1622.7,881.6 1623.7,881.9 1624.8,881.3 1625.8,881.2 1626.9,880.6 1628.0,880.9 1629.0,880.4 1630.1,880.6 1631.1,880.6 1632.2,880.6 1633.2,880.4 1634.3,879.3 1635.4,877.1 1636.4,873.8 1637.5,868.3 1638.5,861.5 1639.6,852.5 1640.7,843.9 1641.7,837.9 1642.8,838.1 1643.8,841.9 1644.9,847.6 1646.0,851.5 1647.0,853.7 1648.1,856.7 1649.1,860.9 1650.2,865.8 1651.2,870.7 1652.3,875.2 1653.4,877.9 1654.4,879.6 1655.5,880.9 1656.5,881.6 1657.6,881.6 1658.7,881.4 1659.7,881.8 1660.8,881.3 1661.8,881.6 1662.9,881.5 1663.9,882.0 1665.0,882.6 1666.1,882.1 1667.1,882.5 1668.2,882.4 1669.2,882.7 1670.3,882.5 1671.4,881.9 1672.4,881.9 1673.5,882.3 1674.5,881.8 1675.6,881.7 1676.7,882.1 1677.7,881.9 1678.8,881.6 1679.8,881.6 1680.9,881.5 1681.9,881.8 1683.0,882.4 1684.1,882.5 1685.1,882.5 1686.2,882.2 1687.2,881.7 1688.3,882.1 1689.4,882.2 1690.4,882.4 1691.5,882.2 1692.5,882.7 1693.6,882.1 1694.7,882.4 1695.7,883.0 1696.8,883.2 1697.8,883.0 1698.9,882.7 1699.9,882.9 1701.0,882.7 1702.1,883.2 1703.1,882.7 1704.2,882.9 1705.2,881.8 1706.3,881.6 1707.4,881.8 1708.4,881.9 1709.5,882.3 1710.5,882.6 1711.6,882.1 1712.6,882.2 1713.7,882.7 1714.8,882.1 1715.8,882.0 1716.9,882.4 1717.9,882.5 1719.0,882.1" fill="none" stroke="#f00" stroke-width="13.5" stroke-linejoin="round" stroke-linecap="butt" shape-rendering="crispEdges"/>
<path d="M131,1217 V20 H1719 V1217" fill="none" stroke="#000" stroke-width="6" stroke-linejoin="bevel" stroke-linecap="round"/>
<line x1="131" y1="1194.5" x2="1719" y2="1194.5" stroke="#000" stroke-width="5"/>
<path d="M263.0,1194 V1205 M396.0,1194 V1217 M528.0,1194 V1205 M660.0,1194 V1217 M793.0,1194 V1205 M925.0,1194 V1217 M1057.0,1194 V1205 M1190.0,1194 V1217 M1322.0,1194 V1205 M1454.0,1194 V1217 M1587.0,1194 V1205" stroke="#000" stroke-width="6" fill="none" stroke-linecap="round"/>
<text transform="translate(131 1272.3) scale(1 1.03)" font-size="55" text-anchor="middle">20</text>
<text transform="translate(395.667 1272.3) scale(1 1.03)" font-size="55" text-anchor="middle">30</text>
<text transform="translate(660.333 1272.3) scale(1 1.03)" font-size="55" text-anchor="middle">40</text>
<text transform="translate(925 1272.3) scale(1 1.03)" font-size="55" text-anchor="middle">50</text>
<text transform="translate(1189.67 1272.3) scale(1 1.03)" font-size="55" text-anchor="middle">60</text>
<text transform="translate(1454.33 1272.3) scale(1 1.03)" font-size="55" text-anchor="middle">70</text>
<text transform="translate(1719 1272.3) scale(1 1.03)" font-size="55" text-anchor="middle">80</text>
<text transform="translate(731 1383) scale(1 1.04)" font-size="66" text-anchor="start">2</text>
<text transform="translate(787.986 1372.8) scale(1 1.02)" font-size="62" text-anchor="start">θ</text>
<text transform="translate(840.703 1383) scale(1 1.02)" font-size="66" text-anchor="start">(</text>
<text transform="translate(897.917 1383.8) scale(1 1.03)" font-size="66" text-anchor="start">degrees)</text>
<text transform="translate(63.3 799.2) rotate(-90) scale(1 1.01)" font-size="66.4" text-anchor="start">Intensity(a.u.)</text>
<line x1="196.5" y1="99.3" x2="320.5" y2="99.3" stroke="#000" stroke-width="13" stroke-linecap="round"/>
<line x1="196.5" y1="201.3" x2="320.5" y2="201.3" stroke="#f00" stroke-width="13" stroke-linecap="round"/>
<text transform="translate(337.458 118.4) scale(1 1.04)" font-size="66.4" text-anchor="start">SrTiO</text>
<text transform="translate(501.172 143.6) scale(1 1.1)" font-size="36" text-anchor="start">3</text>
<text transform="translate(336.778 220) scale(1 1.04)" font-size="66.4" text-anchor="start">Q-SrTiO</text>
<text transform="translate(569.972 245.4) scale(1 1.1)" font-size="36" text-anchor="start">3</text>
<text transform="translate(248.98 309.475)" font-size="55" text-anchor="start" style="font-family:IPAGothic,'Liberation Serif',serif;stroke:#000;stroke-width:0.7px">*</text>
<text transform="translate(344.158 321.4) scale(1 1.04)" font-size="66.4" text-anchor="start">SrCO</text>
<text transform="translate(493.772 345.4) scale(1 1.1)" font-size="36" text-anchor="start">3</text>
<text transform="translate(203 869.158) rotate(-90)" font-size="56" text-anchor="start">(100)</text>
<text transform="translate(457.6 501.358) rotate(-90)" font-size="56" text-anchor="start">(110)</text>
<text transform="translate(654.8 790.058) rotate(-90)" font-size="56" text-anchor="start">(111)</text>
<text transform="translate(833.6 720.358) rotate(-90)" font-size="56" text-anchor="start">(200)</text>
<text transform="translate(986.6 875.658) rotate(-90)" font-size="56" text-anchor="start">(210)</text>
<text transform="translate(1130.8 754.658) rotate(-90)" font-size="56" text-anchor="start">(211)</text>
<text transform="translate(1395.9 809.358) rotate(-90)" font-size="56" text-anchor="start">(220)</text>
<text transform="translate(1640.7 843.958) rotate(-90)" font-size="56" text-anchor="start">(310)</text>
<text transform="translate(259.176 743.55)" font-size="46" text-anchor="start" style="font-family:IPAGothic,'Liberation Serif',serif;stroke:#000;stroke-width:0.7px">*</text>
<text transform="translate(281.376 813.45)" font-size="46" text-anchor="start" style="font-family:IPAGothic,'Liberation Serif',serif;stroke:#000;stroke-width:0.7px">*</text>
<text transform="translate(370.276 838.65)" font-size="46" text-anchor="start" style="font-family:IPAGothic,'Liberation Serif',serif;stroke:#000;stroke-width:0.7px">*</text>
<text transform="translate(415.276 842.65)" font-size="46" text-anchor="start" style="font-family:IPAGothic,'Liberation Serif',serif;stroke:#000;stroke-width:0.7px">*</text>
<text transform="translate(555.276 816.65)" font-size="46" text-anchor="start" style="font-family:IPAGothic,'Liberation Serif',serif;stroke:#000;stroke-width:0.7px">*</text>
<text transform="translate(680.376 832.75)" font-size="46" text-anchor="start" style="font-family:IPAGothic,'Liberation Serif',serif;stroke:#000;stroke-width:0.7px">*</text>
<text transform="translate(753.176 801.75)" font-size="46" text-anchor="start" style="font-family:IPAGothic,'Liberation Serif',serif;stroke:#000;stroke-width:0.7px">*</text>
<text transform="translate(906.376 830.15)" font-size="46" text-anchor="start" style="font-family:IPAGothic,'Liberation Serif',serif;stroke:#000;stroke-width:0.7px">*</text>
<rect x="962.5" y="45.5" width="730" height="453" fill="none" stroke="#000" stroke-width="3"/>
<path d="M962.5,498 V508 M1035.5,498 V504 M1108.5,498 V508 M1181.5,498 V504 M1254.5,498 V508 M1327.5,498 V504 M1400.5,498 V508 M1473.5,498 V504 M1546.5,498 V508 M1619.5,498 V504 M1692.5,498 V508" stroke="#000" stroke-width="3" fill="none"/>
<path d="M962.4,486.2 963.1,485.9 963.9,485.9 964.6,486.1 965.3,486.0 966.1,486.1 966.8,486.1 967.5,485.8 968.2,485.8 969.0,486.3 969.7,486.0 970.4,486.5 971.2,486.1 971.9,486.5 972.6,486.4 973.4,486.3 974.1,486.1 974.8,486.2 975.5,485.8 976.3,486.0 977.0,485.9 977.7,486.1 978.5,486.0 979.2,485.8 979.9,485.8 980.7,485.6 981.4,485.7 982.1,486.1 982.9,486.2 983.6,486.4 984.3,486.3 985.0,486.2 985.8,486.4 986.5,486.8 987.2,486.8 988.0,486.7 988.7,487.2 989.4,487.2 990.2,486.8 990.9,486.9 991.6,486.8 992.4,487.0 993.1,486.7 993.8,486.7 994.5,486.8 995.3,487.0 996.0,486.6 996.7,486.6 997.5,486.8 998.2,486.9 998.9,486.6 999.7,486.3 1000.4,486.4 1001.1,486.2 1001.8,485.8 1002.6,486.2 1003.3,485.9 1004.0,486.1 1004.8,486.5 1005.5,486.4 1006.2,486.6 1007.0,486.2 1007.7,486.5 1008.4,486.1 1009.2,486.0 1009.9,486.1 1010.6,486.0 1011.3,486.1 1012.1,486.2 1012.8,486.1 1013.5,485.7 1014.3,485.8 1015.0,485.9 1015.7,485.9 1016.5,486.0 1017.2,485.8 1017.9,485.6 1018.6,485.7 1019.4,486.0 1020.1,485.7 1020.8,485.9 1021.6,486.1 1022.3,486.0 1023.0,486.0 1023.8,486.0 1024.5,485.9 1025.2,486.4 1026.0,486.4 1026.7,486.9 1027.4,486.7 1028.1,487.1 1028.9,487.0 1029.6,486.9 1030.3,486.8 1031.1,486.6 1031.8,486.9 1032.5,486.7 1033.3,486.8 1034.0,486.6 1034.7,486.5 1035.5,486.5 1036.2,486.9 1036.9,486.5 1037.6,486.9 1038.4,486.6 1039.1,486.7 1039.8,486.6 1040.6,486.7 1041.3,486.5 1042.0,486.6 1042.8,486.7 1043.5,486.1 1044.2,486.1 1044.9,485.8 1045.7,485.7 1046.4,485.6 1047.1,485.6 1047.9,486.1 1048.6,486.1 1049.3,486.1 1050.1,486.1 1050.8,486.2 1051.5,485.9 1052.3,486.2 1053.0,486.3 1053.7,486.4 1054.4,486.6 1055.2,486.5 1055.9,486.7 1056.6,486.3 1057.4,486.6 1058.1,486.6 1058.8,486.6 1059.6,486.6 1060.3,486.7 1061.0,486.5 1061.7,486.9 1062.5,486.6 1063.2,486.7 1063.9,486.9 1064.7,486.8 1065.4,486.6 1066.1,486.6 1066.9,486.6 1067.6,486.8 1068.3,486.9 1069.1,486.6 1069.8,486.1 1070.5,485.8 1071.2,485.8 1072.0,485.5 1072.7,485.6 1073.4,485.5 1074.2,485.8 1074.9,486.1 1075.6,486.3 1076.4,486.3 1077.1,486.2 1077.8,486.5 1078.5,486.4 1079.3,486.1 1080.0,486.1 1080.7,486.6 1081.5,486.6 1082.2,486.5 1082.9,486.3 1083.7,486.0 1084.4,485.9 1085.1,486.0 1085.9,485.9 1086.6,486.2 1087.3,486.0 1088.0,485.8 1088.8,485.4 1089.5,485.4 1090.2,485.5 1091.0,485.9 1091.7,485.6 1092.4,486.0 1093.2,486.0 1093.9,486.0 1094.6,486.1 1095.4,485.7 1096.1,485.7 1096.8,485.3 1097.5,485.2 1098.3,485.1 1099.0,485.3 1099.7,485.5 1100.5,485.7 1101.2,486.5 1101.9,486.3 1102.7,486.7 1103.4,486.6 1104.1,486.6 1104.8,486.5 1105.6,486.6 1106.3,486.5 1107.0,486.4 1107.8,486.3 1108.5,486.3 1109.2,486.2 1110.0,486.0 1110.7,485.9 1111.4,485.6 1112.2,485.9 1112.9,485.7 1113.6,485.4 1114.3,485.3 1115.1,485.6 1115.8,485.2 1116.5,485.3 1117.3,485.6 1118.0,485.9 1118.7,485.8 1119.5,486.0 1120.2,486.1 1120.9,485.8 1121.6,486.1 1122.4,485.6 1123.1,485.9 1123.8,485.4 1124.6,485.3 1125.3,485.7 1126.0,485.7 1126.8,485.5 1127.5,485.8 1128.2,485.8 1129.0,485.9 1129.7,485.6 1130.4,485.9 1131.1,485.9 1131.9,485.7 1132.6,485.8 1133.3,485.8 1134.1,485.4 1134.8,485.6 1135.5,485.4 1136.3,485.1 1137.0,484.8 1137.7,484.9 1138.5,485.0 1139.2,484.7 1139.9,484.8 1140.6,484.8 1141.4,484.6 1142.1,484.3 1142.8,484.6 1143.6,484.4 1144.3,484.7 1145.0,484.6 1145.8,484.5 1146.5,484.7 1147.2,484.5 1147.9,484.3 1148.7,484.4 1149.4,484.3 1150.1,484.2 1150.9,484.2 1151.6,484.0 1152.3,483.9 1153.1,483.7 1153.8,483.5 1154.5,483.6 1155.3,483.2 1156.0,483.0 1156.7,483.3 1157.4,483.1 1158.2,483.1 1158.9,483.1 1159.6,482.9 1160.4,482.8 1161.1,482.8 1161.8,483.3 1162.6,483.4 1163.3,483.4 1164.0,483.0 1164.7,483.3 1165.5,483.0 1166.2,482.4 1166.9,481.8 1167.7,481.9 1168.4,481.7 1169.1,481.6 1169.9,481.2 1170.6,481.4 1171.3,481.0 1172.1,481.1 1172.8,480.8 1173.5,480.9 1174.2,481.2 1175.0,481.2 1175.7,481.3 1176.4,481.1 1177.2,481.1 1177.9,481.1 1178.6,480.6 1179.4,480.6 1180.1,480.7 1180.8,480.4 1181.5,480.3 1182.3,480.0 1183.0,480.1 1183.7,480.2 1184.5,480.2 1185.2,480.0 1185.9,479.9 1186.7,479.7 1187.4,480.1 1188.1,480.1 1188.9,479.7 1189.6,479.9 1190.3,479.7 1191.0,479.8 1191.8,479.8 1192.5,479.5 1193.2,479.7 1194.0,479.5 1194.7,479.6 1195.4,479.5 1196.2,479.8 1196.9,480.1 1197.6,480.7 1198.4,480.6 1199.1,481.0 1199.8,480.7 1200.5,481.0 1201.3,480.4 1202.0,480.2 1202.7,480.2 1203.5,480.6 1204.2,480.5 1204.9,480.8 1205.7,480.8 1206.4,480.8 1207.1,481.1 1207.8,481.2 1208.6,481.6 1209.3,481.2 1210.0,481.3 1210.8,481.6 1211.5,481.3 1212.2,481.8 1213.0,481.6 1213.7,481.9 1214.4,482.2 1215.2,482.6 1215.9,482.4 1216.6,482.9 1217.3,482.6 1218.1,482.8 1218.8,482.4 1219.5,482.7 1220.3,482.4 1221.0,482.4 1221.7,482.4 1222.5,482.6 1223.2,482.7 1223.9,483.1 1224.6,483.0 1225.4,482.9 1226.1,483.3 1226.8,483.0 1227.6,483.2 1228.3,483.7 1229.0,483.9 1229.8,483.8 1230.5,483.9 1231.2,483.3 1232.0,483.6 1232.7,483.4 1233.4,483.3 1234.1,483.3 1234.9,483.0 1235.6,483.1 1236.3,483.1 1237.1,483.3 1237.8,483.4 1238.5,483.4 1239.3,483.3 1240.0,483.6 1240.7,483.7 1241.5,483.8 1242.2,483.5 1242.9,483.5 1243.6,483.5 1244.4,483.2 1245.1,483.1 1245.8,482.5 1246.6,482.5 1247.3,482.2 1248.0,482.2 1248.8,482.3 1249.5,482.3 1250.2,481.8 1250.9,481.8 1251.7,482.0 1252.4,481.6 1253.1,481.4 1253.9,481.4 1254.6,481.7 1255.3,481.6 1256.1,481.6 1256.8,481.2 1257.5,481.0 1258.3,481.1 1259.0,481.4 1259.7,481.1 1260.4,480.8 1261.2,480.7 1261.9,480.5 1262.6,480.1 1263.4,479.8 1264.1,479.4 1264.8,479.0 1265.6,479.0 1266.3,478.5 1267.0,477.8 1267.7,477.1 1268.5,476.6 1269.2,476.3 1269.9,475.9 1270.7,475.2 1271.4,474.9 1272.1,474.1 1272.9,473.3 1273.6,472.9 1274.3,472.1 1275.1,471.3 1275.8,470.5 1276.5,469.3 1277.2,468.6 1278.0,467.8 1278.7,466.5 1279.4,465.6 1280.2,464.7 1280.9,463.7 1281.6,462.7 1282.4,461.5 1283.1,460.4 1283.8,458.8 1284.6,457.4 1285.3,456.1 1286.0,454.5 1286.7,453.2 1287.5,451.8 1288.2,450.1 1288.9,448.9 1289.7,447.6 1290.4,446.2 1291.1,444.6 1291.9,443.2 1292.6,441.2 1293.3,439.8 1294.0,437.9 1294.8,436.6 1295.5,434.8 1296.2,433.2 1297.0,431.0 1297.7,429.5 1298.4,427.7 1299.2,425.6 1299.9,424.1 1300.6,422.3 1301.4,419.9 1302.1,418.4 1302.8,416.3 1303.5,414.2 1304.3,412.2 1305.0,410.1 1305.7,408.1 1306.5,406.4 1307.2,404.6 1307.9,402.3 1308.7,400.4 1309.4,398.1 1310.1,396.1 1310.8,393.8 1311.6,391.5 1312.3,389.0 1313.0,387.0 1313.8,385.0 1314.5,383.6 1315.2,382.2 1316.0,380.8 1316.7,379.1 1317.4,378.1 1318.2,377.0 1318.9,376.6 1319.6,376.6 1320.3,376.3 1321.1,376.9 1321.8,377.4 1322.5,378.1 1323.3,378.8 1324.0,380.6 1324.7,382.3 1325.5,384.4 1326.2,386.4 1326.9,389.0 1327.7,392.1 1328.4,395.3 1329.1,398.5 1329.8,401.8 1330.6,405.7 1331.3,409.5 1332.0,413.4 1332.8,417.3 1333.5,421.3 1334.2,425.2 1335.0,428.6 1335.7,432.3 1336.4,435.6 1337.1,438.8 1337.9,442.2 1338.6,444.9 1339.3,447.8 1340.1,450.5 1340.8,453.3 1341.5,455.6 1342.3,458.1 1343.0,460.0 1343.7,462.4 1344.5,463.7 1345.2,465.5 1345.9,466.7 1346.6,467.9 1347.4,468.9 1348.1,470.1 1348.8,471.3 1349.6,472.1 1350.3,473.0 1351.0,473.6 1351.8,474.4 1352.5,474.9 1353.2,475.6 1353.9,476.3 1354.7,476.8 1355.4,477.4 1356.1,477.9 1356.9,478.1 1357.6,478.8 1358.3,478.9 1359.1,479.1 1359.8,479.4 1360.5,479.3 1361.3,479.4 1362.0,479.6 1362.7,479.9 1363.4,480.2 1364.2,480.4 1364.9,480.6 1365.6,480.9 1366.4,481.0 1367.1,481.3 1367.8,481.8 1368.6,482.0 1369.3,482.5 1370.0,482.6 1370.7,482.4 1371.5,482.6 1372.2,482.2 1372.9,482.0 1373.7,482.4 1374.4,481.9 1375.1,482.0 1375.9,482.4 1376.6,481.9 1377.3,482.2 1378.1,482.1 1378.8,482.0 1379.5,482.1 1380.2,482.5 1381.0,482.3 1381.7,482.3 1382.4,482.4 1383.2,482.6 1383.9,482.5 1384.6,482.5 1385.4,482.9 1386.1,482.7 1386.8,482.7 1387.6,482.8 1388.3,483.4 1389.0,483.3 1389.7,483.7 1390.5,483.9 1391.2,484.3 1391.9,484.0 1392.7,484.1 1393.4,484.1 1394.1,483.7 1394.9,483.8 1395.6,483.9 1396.3,483.8 1397.0,483.8 1397.8,484.0 1398.5,483.8 1399.2,483.9 1400.0,483.8 1400.7,483.6 1401.4,483.8 1402.2,483.7 1402.9,483.6 1403.6,483.7 1404.4,483.6 1405.1,483.7 1405.8,484.0 1406.5,484.2 1407.3,484.6 1408.0,484.7 1408.7,485.1 1409.5,485.3 1410.2,485.1 1410.9,485.2 1411.7,484.6 1412.4,484.9 1413.1,484.7 1413.8,484.7 1414.6,484.7 1415.3,484.6 1416.0,484.4 1416.8,484.4 1417.5,484.5 1418.2,484.3 1419.0,484.4 1419.7,484.5 1420.4,484.1 1421.2,484.1 1421.9,483.9 1422.6,484.4 1423.3,484.3 1424.1,484.3 1424.8,484.1 1425.5,484.1 1426.3,484.2 1427.0,484.4 1427.7,484.2 1428.5,484.3 1429.2,484.3 1429.9,484.6 1430.7,484.3 1431.4,484.7 1432.1,484.3 1432.8,484.8 1433.6,485.0 1434.3,485.0 1435.0,485.3 1435.8,485.1 1436.5,485.0 1437.2,485.0 1438.0,484.8 1438.7,484.8 1439.4,484.6 1440.1,484.6 1440.9,484.8 1441.6,484.7 1442.3,484.6 1443.1,484.7 1443.8,484.7 1444.5,484.6 1445.3,484.4 1446.0,484.6 1446.7,484.9 1447.5,485.1 1448.2,485.3 1448.9,485.2 1449.6,485.2 1450.4,484.9 1451.1,485.0 1451.8,484.7 1452.6,484.9 1453.3,484.6 1454.0,484.6 1454.8,485.3 1455.5,485.5 1456.2,485.5 1456.9,485.6 1457.7,486.0 1458.4,485.9 1459.1,485.4 1459.9,485.4 1460.6,485.1 1461.3,484.8 1462.1,484.5 1462.8,484.5 1463.5,484.6 1464.3,484.9 1465.0,485.2 1465.7,485.3 1466.4,485.1 1467.2,485.4 1467.9,485.1 1468.6,485.5 1469.4,485.3 1470.1,485.3 1470.8,485.4 1471.6,485.7 1472.3,485.3 1473.0,485.1 1473.8,485.2 1474.5,485.1 1475.2,485.1 1475.9,485.2 1476.7,485.4 1477.4,485.7 1478.1,485.6 1478.9,485.9 1479.6,485.7 1480.3,485.7 1481.1,485.5 1481.8,485.7 1482.5,485.3 1483.2,485.4 1484.0,485.4 1484.7,485.1 1485.4,485.0 1486.2,484.9 1486.9,485.0 1487.6,484.8 1488.4,484.7 1489.1,485.1 1489.8,485.0 1490.6,485.2 1491.3,485.2 1492.0,485.2 1492.7,485.3 1493.5,485.2 1494.2,484.9 1494.9,485.0 1495.7,484.9 1496.4,484.4 1497.1,484.4 1497.9,484.5 1498.6,484.7 1499.3,485.0 1500.0,485.0 1500.8,485.3 1501.5,485.1 1502.2,485.1 1503.0,484.9 1503.7,485.1 1504.4,484.8 1505.2,484.7 1505.9,484.8 1506.6,485.0 1507.4,485.3 1508.1,485.2 1508.8,485.8 1509.5,485.9 1510.3,485.6 1511.0,485.9 1511.7,486.0 1512.5,486.0 1513.2,485.8 1513.9,485.7 1514.7,485.7 1515.4,485.7 1516.1,485.6 1516.8,485.3 1517.6,485.5 1518.3,485.3 1519.0,485.0 1519.8,485.1 1520.5,484.9 1521.2,484.9 1522.0,484.5 1522.7,484.6 1523.4,484.5 1524.2,484.8 1524.9,484.8 1525.6,484.6 1526.3,485.0 1527.1,484.9 1527.8,484.8 1528.5,485.1 1529.3,484.6 1530.0,484.8 1530.7,484.9 1531.5,484.7 1532.2,484.9 1532.9,485.0 1533.7,484.8 1534.4,484.9 1535.1,484.7 1535.8,485.0 1536.6,485.0 1537.3,484.6 1538.0,484.9 1538.8,484.7 1539.5,484.6 1540.2,484.7 1541.0,484.9 1541.7,484.9 1542.4,485.1 1543.1,485.1 1543.9,485.3 1544.6,485.6 1545.3,485.7 1546.1,485.8 1546.8,485.4 1547.5,485.1 1548.3,485.1 1549.0,484.8 1549.7,484.8 1550.5,484.8 1551.2,484.6 1551.9,484.5 1552.6,484.4 1553.4,484.6 1554.1,484.7 1554.8,484.8 1555.6,485.1 1556.3,485.1 1557.0,485.4 1557.8,485.9 1558.5,485.5 1559.2,485.7 1559.9,485.6 1560.7,485.5 1561.4,485.4 1562.1,485.1 1562.9,485.2 1563.6,485.1 1564.3,485.3 1565.1,485.4 1565.8,485.6 1566.5,485.8 1567.3,485.7 1568.0,485.6 1568.7,485.6 1569.4,485.5 1570.2,485.1 1570.9,484.9 1571.6,484.9 1572.4,485.1 1573.1,484.9 1573.8,485.4 1574.6,485.2 1575.3,485.8 1576.0,485.4 1576.8,485.7 1577.5,485.3 1578.2,485.4 1578.9,485.2 1579.7,485.4 1580.4,485.3 1581.1,485.0 1581.9,485.0 1582.6,485.4 1583.3,485.3 1584.1,485.3 1584.8,485.2 1585.5,485.2 1586.2,485.3 1587.0,485.2 1587.7,485.0 1588.4,485.1 1589.2,485.4 1589.9,485.2 1590.6,485.1 1591.4,485.1 1592.1,484.7 1592.8,484.6 1593.6,484.8 1594.3,484.4 1595.0,484.6 1595.7,484.1 1596.5,484.1 1597.2,483.9 1597.9,484.0 1598.7,483.6 1599.4,483.9 1600.1,484.0 1600.9,483.6 1601.6,483.9 1602.3,483.7 1603.0,483.9 1603.8,484.2 1604.5,483.8 1605.2,484.2 1606.0,484.4 1606.7,484.6 1607.4,484.6 1608.2,484.1 1608.9,484.1 1609.6,484.2 1610.4,484.3 1611.1,484.3 1611.8,484.1 1612.5,484.2 1613.3,484.1 1614.0,484.1 1614.7,484.0 1615.5,483.7 1616.2,483.8 1616.9,483.6 1617.7,483.5 1618.4,482.9 1619.1,482.6 1619.8,482.7 1620.6,482.6 1621.3,482.7 1622.0,482.6 1622.8,483.0 1623.5,483.0 1624.2,482.9 1625.0,482.8 1625.7,483.1 1626.4,482.9 1627.2,483.3 1627.9,483.1 1628.6,483.4 1629.3,483.0 1630.1,483.1 1630.8,483.3 1631.5,483.1 1632.3,483.0 1633.0,483.3 1633.7,483.0 1634.5,483.4 1635.2,483.3 1635.9,483.3 1636.7,483.4 1637.4,483.4 1638.1,483.6 1638.8,483.5 1639.6,483.5 1640.3,483.5 1641.0,483.6 1641.8,483.5 1642.5,483.4 1643.2,483.7 1644.0,483.8 1644.7,484.0 1645.4,483.8 1646.1,484.0 1646.9,484.1 1647.6,484.0 1648.3,484.0 1649.1,484.2 1649.8,484.2 1650.5,484.4 1651.3,484.2 1652.0,484.1 1652.7,484.2 1653.5,484.1 1654.2,484.2 1654.9,484.2 1655.6,484.0 1656.4,484.2 1657.1,484.6 1657.8,484.8 1658.6,485.0 1659.3,485.0 1660.0,485.3 1660.8,485.3 1661.5,485.3 1662.2,485.3 1662.9,485.4 1663.7,485.2 1664.4,485.4 1665.1,484.9 1665.9,484.5 1666.6,484.4 1667.3,484.0 1668.1,484.0 1668.8,484.3 1669.5,484.3 1670.3,484.8 1671.0,485.1 1671.7,485.6 1672.4,485.3 1673.2,485.5 1673.9,485.5 1674.6,485.3 1675.4,485.4 1676.1,485.5 1676.8,485.5 1677.6,485.5 1678.3,485.5 1679.0,485.3 1679.8,485.2 1680.5,485.2 1681.2,485.1 1681.9,484.9 1682.7,485.0 1683.4,484.7 1684.1,484.7 1684.9,484.2 1685.6,484.3 1686.3,484.3 1687.1,484.7 1687.8,485.1 1688.5,485.3 1689.2,485.5 1690.0,485.7 1690.7,485.3 1691.4,485.5 1692.2,484.9 1692.9,484.8" fill="none" stroke="#000" stroke-width="6" stroke-linejoin="round" shape-rendering="crispEdges"/>
<path d="M962.4,283.9 963.1,284.2 963.9,284.2 964.6,284.4 965.3,284.2 966.1,284.2 966.8,284.3 967.5,284.6 968.2,284.3 969.0,284.2 969.7,284.2 970.4,284.2 971.2,284.1 971.9,284.4 972.6,284.1 973.4,284.1 974.1,284.6 974.8,284.7 975.5,284.8 976.3,284.5 977.0,284.7 977.7,284.7 978.5,284.4 979.2,284.7 979.9,284.7 980.7,284.6 981.4,284.3 982.1,284.0 982.9,283.9 983.6,283.7 984.3,283.5 985.0,283.8 985.8,283.6 986.5,283.9 987.2,283.5 988.0,283.9 988.7,283.8 989.4,284.0 990.2,284.2 990.9,284.4 991.6,284.6 992.4,284.5 993.1,284.9 993.8,284.6 994.5,284.5 995.3,284.5 996.0,284.2 996.7,284.0 997.5,284.2 998.2,284.1 998.9,283.9 999.7,283.9 1000.4,284.2 1001.1,284.0 1001.8,284.1 1002.6,284.0 1003.3,284.1 1004.0,284.5 1004.8,284.9 1005.5,284.8 1006.2,285.2 1007.0,285.2 1007.7,285.0 1008.4,284.8 1009.2,284.2 1009.9,284.4 1010.6,284.5 1011.3,284.1 1012.1,284.3 1012.8,284.4 1013.5,284.7 1014.3,284.7 1015.0,284.8 1015.7,284.9 1016.5,284.4 1017.2,284.3 1017.9,284.2 1018.6,284.1 1019.4,284.1 1020.1,284.5 1020.8,284.5 1021.6,284.2 1022.3,284.4 1023.0,284.4 1023.8,284.4 1024.5,284.4 1025.2,284.4 1026.0,284.2 1026.7,283.9 1027.4,283.7 1028.1,283.7 1028.9,283.7 1029.6,284.0 1030.3,284.3 1031.1,284.3 1031.8,284.2 1032.5,284.3 1033.3,284.4 1034.0,284.6 1034.7,284.8 1035.5,284.7 1036.2,284.9 1036.9,284.9 1037.6,284.7 1038.4,284.6 1039.1,284.5 1039.8,284.5 1040.6,284.3 1041.3,284.4 1042.0,284.3 1042.8,284.2 1043.5,284.5 1044.2,284.6 1044.9,284.4 1045.7,284.6 1046.4,284.5 1047.1,284.8 1047.9,284.8 1048.6,284.4 1049.3,284.7 1050.1,284.6 1050.8,284.3 1051.5,284.2 1052.3,283.9 1053.0,284.0 1053.7,283.7 1054.4,283.8 1055.2,283.8 1055.9,283.9 1056.6,284.2 1057.4,284.3 1058.1,284.3 1058.8,284.6 1059.6,284.3 1060.3,284.3 1061.0,284.6 1061.7,284.1 1062.5,284.1 1063.2,284.1 1063.9,284.4 1064.7,284.0 1065.4,283.8 1066.1,284.1 1066.9,283.7 1067.6,284.0 1068.3,283.9 1069.1,283.9 1069.8,283.8 1070.5,283.6 1071.2,283.6 1072.0,283.2 1072.7,283.6 1073.4,283.7 1074.2,284.1 1074.9,284.0 1075.6,284.6 1076.4,284.7 1077.1,284.2 1077.8,284.2 1078.5,284.2 1079.3,284.2 1080.0,283.8 1080.7,283.7 1081.5,283.7 1082.2,284.0 1082.9,284.1 1083.7,284.0 1084.4,284.0 1085.1,284.1 1085.9,284.0 1086.6,284.1 1087.3,284.0 1088.0,284.2 1088.8,284.5 1089.5,284.2 1090.2,284.3 1091.0,283.9 1091.7,284.1 1092.4,284.1 1093.2,284.0 1093.9,283.8 1094.6,283.8 1095.4,283.9 1096.1,284.1 1096.8,283.8 1097.5,283.8 1098.3,284.1 1099.0,284.1 1099.7,283.7 1100.5,283.5 1101.2,283.4 1101.9,283.0 1102.7,282.9 1103.4,282.9 1104.1,283.1 1104.8,283.1 1105.6,283.2 1106.3,283.5 1107.0,283.6 1107.8,283.2 1108.5,283.3 1109.2,283.0 1110.0,283.0 1110.7,282.8 1111.4,282.5 1112.2,282.5 1112.9,282.5 1113.6,282.8 1114.3,282.9 1115.1,282.9 1115.8,283.0 1116.5,282.9 1117.3,283.1 1118.0,282.7 1118.7,283.0 1119.5,282.7 1120.2,282.7 1120.9,282.5 1121.6,282.4 1122.4,282.1 1123.1,281.6 1123.8,281.3 1124.6,281.3 1125.3,281.3 1126.0,281.0 1126.8,281.2 1127.5,281.2 1128.2,280.9 1129.0,280.7 1129.7,280.7 1130.4,280.8 1131.1,280.8 1131.9,280.9 1132.6,280.7 1133.3,280.3 1134.1,280.3 1134.8,280.4 1135.5,280.6 1136.3,281.0 1137.0,281.2 1137.7,281.1 1138.5,280.7 1139.2,280.7 1139.9,280.1 1140.6,279.9 1141.4,279.8 1142.1,279.3 1142.8,279.2 1143.6,279.5 1144.3,279.1 1145.0,279.1 1145.8,279.1 1146.5,279.1 1147.2,278.5 1147.9,278.5 1148.7,278.3 1149.4,278.0 1150.1,277.7 1150.9,277.7 1151.6,277.7 1152.3,277.3 1153.1,277.3 1153.8,277.0 1154.5,277.0 1155.3,277.1 1156.0,276.6 1156.7,276.8 1157.4,276.6 1158.2,276.1 1158.9,276.3 1159.6,275.9 1160.4,275.9 1161.1,275.8 1161.8,275.5 1162.6,275.5 1163.3,275.4 1164.0,275.4 1164.7,275.1 1165.5,275.3 1166.2,275.4 1166.9,275.3 1167.7,275.3 1168.4,275.1 1169.1,275.3 1169.9,275.2 1170.6,275.5 1171.3,275.5 1172.1,275.5 1172.8,275.4 1173.5,275.7 1174.2,275.9 1175.0,275.9 1175.7,276.5 1176.4,276.6 1177.2,276.5 1177.9,277.0 1178.6,276.7 1179.4,276.9 1180.1,277.2 1180.8,277.2 1181.5,277.4 1182.3,277.6 1183.0,277.8 1183.7,277.9 1184.5,278.1 1185.2,278.3 1185.9,278.9 1186.7,279.1 1187.4,279.1 1188.1,279.4 1188.9,279.3 1189.6,279.4 1190.3,279.7 1191.0,280.1 1191.8,279.9 1192.5,280.3 1193.2,280.4 1194.0,280.8 1194.7,280.8 1195.4,280.9 1196.2,281.0 1196.9,281.0 1197.6,281.2 1198.4,281.0 1199.1,281.3 1199.8,281.0 1200.5,281.1 1201.3,280.9 1202.0,280.8 1202.7,281.1 1203.5,281.1 1204.2,281.0 1204.9,281.3 1205.7,281.7 1206.4,282.1 1207.1,282.4 1207.8,282.5 1208.6,282.5 1209.3,282.3 1210.0,282.5 1210.8,282.5 1211.5,282.7 1212.2,282.8 1213.0,282.6 1213.7,282.6 1214.4,282.9 1215.2,282.5 1215.9,282.8 1216.6,282.9 1217.3,282.8 1218.1,282.5 1218.8,282.4 1219.5,282.3 1220.3,282.2 1221.0,282.3 1221.7,282.2 1222.5,282.0 1223.2,282.2 1223.9,282.1 1224.6,282.1 1225.4,282.1 1226.1,281.7 1226.8,281.9 1227.6,281.6 1228.3,281.2 1229.0,281.1 1229.8,280.9 1230.5,280.7 1231.2,281.0 1232.0,280.9 1232.7,281.2 1233.4,281.4 1234.1,281.2 1234.9,281.2 1235.6,281.2 1236.3,280.9 1237.1,280.4 1237.8,280.5 1238.5,280.3 1239.3,279.8 1240.0,279.8 1240.7,279.5 1241.5,279.2 1242.2,279.2 1242.9,279.2 1243.6,278.7 1244.4,278.8 1245.1,278.4 1245.8,277.9 1246.6,278.0 1247.3,277.7 1248.0,277.7 1248.8,277.6 1249.5,277.7 1250.2,277.6 1250.9,277.8 1251.7,277.7 1252.4,277.4 1253.1,277.0 1253.9,277.0 1254.6,276.6 1255.3,276.2 1256.1,275.8 1256.8,275.4 1257.5,274.9 1258.3,274.2 1259.0,273.7 1259.7,273.1 1260.4,272.5 1261.2,272.0 1261.9,271.7 1262.6,271.2 1263.4,270.9 1264.1,270.5 1264.8,269.7 1265.6,268.7 1266.3,268.0 1267.0,266.8 1267.7,265.4 1268.5,264.1 1269.2,262.8 1269.9,261.4 1270.7,259.6 1271.4,257.7 1272.1,255.8 1272.9,254.0 1273.6,251.5 1274.3,249.3 1275.1,246.7 1275.8,244.0 1276.5,241.1 1277.2,238.2 1278.0,234.8 1278.7,231.2 1279.4,227.7 1280.2,223.9 1280.9,220.2 1281.6,215.8 1282.4,211.3 1283.1,206.9 1283.8,202.1 1284.6,197.4 1285.3,192.0 1286.0,187.1 1286.7,181.9 1287.5,176.4 1288.2,171.4 1288.9,165.5 1289.7,159.9 1290.4,154.8 1291.1,149.6 1291.9,145.1 1292.6,140.5 1293.3,136.2 1294.0,132.3 1294.8,129.0 1295.5,125.4 1296.2,122.6 1297.0,119.7 1297.7,117.6 1298.4,115.5 1299.2,114.1 1299.9,113.5 1300.6,113.7 1301.4,114.2 1302.1,115.2 1302.8,116.8 1303.5,119.2 1304.3,121.8 1305.0,124.4 1305.7,127.3 1306.5,130.8 1307.2,134.7 1307.9,138.9 1308.7,143.3 1309.4,148.1 1310.1,153.4 1310.8,158.8 1311.6,163.8 1312.3,169.6 1313.0,174.6 1313.8,180.1 1314.5,185.4 1315.2,190.6 1316.0,195.3 1316.7,200.4 1317.4,205.4 1318.2,210.3 1318.9,214.2 1319.6,218.6 1320.3,222.9 1321.1,226.4 1321.8,230.3 1322.5,233.9 1323.3,237.6 1324.0,241.1 1324.7,243.9 1325.5,247.1 1326.2,249.7 1326.9,252.1 1327.7,254.1 1328.4,256.1 1329.1,257.5 1329.8,259.1 1330.6,260.6 1331.3,262.3 1332.0,263.5 1332.8,264.5 1333.5,265.6 1334.2,266.8 1335.0,267.7 1335.7,268.7 1336.4,269.4 1337.1,270.4 1337.9,271.1 1338.6,272.1 1339.3,272.4 1340.1,273.1 1340.8,273.5 1341.5,273.7 1342.3,273.7 1343.0,274.0 1343.7,274.6 1344.5,274.8 1345.2,275.3 1345.9,275.7 1346.6,275.8 1347.4,276.3 1348.1,276.5 1348.8,276.6 1349.6,276.9 1350.3,277.1 1351.0,277.5 1351.8,278.1 1352.5,277.9 1353.2,278.3 1353.9,278.3 1354.7,278.6 1355.4,279.1 1356.1,279.1 1356.9,279.2 1357.6,279.4 1358.3,279.7 1359.1,279.7 1359.8,279.4 1360.5,279.5 1361.3,280.0 1362.0,279.7 1362.7,280.0 1363.4,280.0 1364.2,280.3 1364.9,280.3 1365.6,280.5 1366.4,280.6 1367.1,280.7 1367.8,281.1 1368.6,281.5 1369.3,282.2 1370.0,282.0 1370.7,282.0 1371.5,282.4 1372.2,281.9 1372.9,282.1 1373.7,281.7 1374.4,281.9 1375.1,281.9 1375.9,282.5 1376.6,282.7 1377.3,283.0 1378.1,283.3 1378.8,283.4 1379.5,283.2 1380.2,283.4 1381.0,283.4 1381.7,283.2 1382.4,283.6 1383.2,283.6 1383.9,283.7 1384.6,283.3 1385.4,283.3 1386.1,283.1 1386.8,283.2 1387.6,282.8 1388.3,283.0 1389.0,283.2 1389.7,283.0 1390.5,283.3 1391.2,283.5 1391.9,283.3 1392.7,283.5 1393.4,283.5 1394.1,283.4 1394.9,283.5 1395.6,283.9 1396.3,283.6 1397.0,283.6 1397.8,283.5 1398.5,283.6 1399.2,283.7 1400.0,284.1 1400.7,284.0 1401.4,284.1 1402.2,284.2 1402.9,284.0 1403.6,284.2 1404.4,284.0 1405.1,283.9 1405.8,284.2 1406.5,284.2 1407.3,284.2 1408.0,284.0 1408.7,284.1 1409.5,283.9 1410.2,284.3 1410.9,284.2 1411.7,284.0 1412.4,284.3 1413.1,284.0 1413.8,283.9 1414.6,284.3 1415.3,284.2 1416.0,284.4 1416.8,284.6 1417.5,284.4 1418.2,284.8 1419.0,284.5 1419.7,284.5 1420.4,284.3 1421.2,284.3 1421.9,284.2 1422.6,284.0 1423.3,283.9 1424.1,283.9 1424.8,284.0 1425.5,283.8 1426.3,283.8 1427.0,284.1 1427.7,284.1 1428.5,284.3 1429.2,284.4 1429.9,284.5 1430.7,284.3 1431.4,284.2 1432.1,284.3 1432.8,284.2 1433.6,284.1 1434.3,283.9 1435.0,283.7 1435.8,283.9 1436.5,283.7 1437.2,283.8 1438.0,284.0 1438.7,284.0 1439.4,283.8 1440.1,283.7 1440.9,284.1 1441.6,283.9 1442.3,284.2 1443.1,284.6 1443.8,284.8 1444.5,284.7 1445.3,284.6 1446.0,284.5 1446.7,284.7 1447.5,284.3 1448.2,284.5 1448.9,284.4 1449.6,284.5 1450.4,284.0 1451.1,284.1 1451.8,284.0 1452.6,284.2 1453.3,284.2 1454.0,284.0 1454.8,284.1 1455.5,283.7 1456.2,283.6 1456.9,283.4 1457.7,283.7 1458.4,283.5 1459.1,283.5 1459.9,283.6 1460.6,283.9 1461.3,284.1 1462.1,284.2 1462.8,284.3 1463.5,284.3 1464.3,284.1 1465.0,284.1 1465.7,284.4 1466.4,284.5 1467.2,284.3 1467.9,284.3 1468.6,284.0 1469.4,283.6 1470.1,283.4 1470.8,283.3 1471.6,283.7 1472.3,284.0 1473.0,284.2 1473.8,284.2 1474.5,284.4 1475.2,284.6 1475.9,284.6 1476.7,284.5 1477.4,284.4 1478.1,284.4 1478.9,284.3 1479.6,284.3 1480.3,284.5 1481.1,284.5 1481.8,284.1 1482.5,283.8 1483.2,283.6 1484.0,283.6 1484.7,283.8 1485.4,283.8 1486.2,284.3 1486.9,284.1 1487.6,284.3 1488.4,284.4 1489.1,284.4 1489.8,284.6 1490.6,284.5 1491.3,284.5 1492.0,284.3 1492.7,284.0 1493.5,284.3 1494.2,284.3 1494.9,284.4 1495.7,284.3 1496.4,284.6 1497.1,284.7 1497.9,284.3 1498.6,284.5 1499.3,284.2 1500.0,284.2 1500.8,284.3 1501.5,284.3 1502.2,284.2 1503.0,284.0 1503.7,284.5 1504.4,284.3 1505.2,284.5 1505.9,284.7 1506.6,284.5 1507.4,284.4 1508.1,284.8 1508.8,284.8 1509.5,284.5 1510.3,284.5 1511.0,284.4 1511.7,284.2 1512.5,284.0 1513.2,284.1 1513.9,283.5 1514.7,283.5 1515.4,283.4 1516.1,283.4 1516.8,283.6 1517.6,283.8 1518.3,283.8 1519.0,283.7 1519.8,283.9 1520.5,283.6 1521.2,284.0 1522.0,284.5 1522.7,284.2 1523.4,284.4 1524.2,284.5 1524.9,284.5 1525.6,284.7 1526.3,284.6 1527.1,284.7 1527.8,285.1 1528.5,284.7 1529.3,284.9 1530.0,284.2 1530.7,284.4 1531.5,284.1 1532.2,284.0 1532.9,283.7 1533.7,283.7 1534.4,284.2 1535.1,283.9 1535.8,284.0 1536.6,284.3 1537.3,284.4 1538.0,284.0 1538.8,284.5 1539.5,284.3 1540.2,284.3 1541.0,284.2 1541.7,284.3 1542.4,284.5 1543.1,284.1 1543.9,283.9 1544.6,283.8 1545.3,283.8 1546.1,283.9 1546.8,284.2 1547.5,283.8 1548.3,283.8 1549.0,284.2 1549.7,284.3 1550.5,284.2 1551.2,283.9 1551.9,283.9 1552.6,284.2 1553.4,283.9 1554.1,284.0 1554.8,283.8 1555.6,283.7 1556.3,283.9 1557.0,284.1 1557.8,284.1 1558.5,284.0 1559.2,284.0 1559.9,284.0 1560.7,284.1 1561.4,284.2 1562.1,284.4 1562.9,284.1 1563.6,284.2 1564.3,284.3 1565.1,284.2 1565.8,283.7 1566.5,284.0 1567.3,283.9 1568.0,283.6 1568.7,283.6 1569.4,283.6 1570.2,283.5 1570.9,284.0 1571.6,283.7 1572.4,283.9 1573.1,283.6 1573.8,283.7 1574.6,284.2 1575.3,284.2 1576.0,284.3 1576.8,284.1 1577.5,283.8 1578.2,283.6 1578.9,283.0 1579.7,283.0 1580.4,282.8 1581.1,282.6 1581.9,283.0 1582.6,283.0 1583.3,283.2 1584.1,283.2 1584.8,283.2 1585.5,283.2 1586.2,283.3 1587.0,283.4 1587.7,283.4 1588.4,283.4 1589.2,283.3 1589.9,282.9 1590.6,283.1 1591.4,282.5 1592.1,282.2 1592.8,282.2 1593.6,282.2 1594.3,281.9 1595.0,281.9 1595.7,281.6 1596.5,281.9 1597.2,281.5 1597.9,281.4 1598.7,281.4 1599.4,281.7 1600.1,281.8 1600.9,281.7 1601.6,281.8 1602.3,281.8 1603.0,281.4 1603.8,281.4 1604.5,281.3 1605.2,281.0 1606.0,280.4 1606.7,280.7 1607.4,280.4 1608.2,280.7 1608.9,280.3 1609.6,280.2 1610.4,280.3 1611.1,280.4 1611.8,280.2 1612.5,280.4 1613.3,280.4 1614.0,280.4 1614.7,280.4 1615.5,280.5 1616.2,280.5 1616.9,280.6 1617.7,280.9 1618.4,281.1 1619.1,281.1 1619.8,280.9 1620.6,280.9 1621.3,280.9 1622.0,280.9 1622.8,280.5 1623.5,280.4 1624.2,280.5 1625.0,280.6 1625.7,280.6 1626.4,281.0 1627.2,281.4 1627.9,281.3 1628.6,281.5 1629.3,281.7 1630.1,281.8 1630.8,281.9 1631.5,281.7 1632.3,282.0 1633.0,281.8 1633.7,282.3 1634.5,282.2 1635.2,282.5 1635.9,283.0 1636.7,282.9 1637.4,283.0 1638.1,283.3 1638.8,283.2 1639.6,282.9 1640.3,282.8 1641.0,282.9 1641.8,282.7 1642.5,283.3 1643.2,283.1 1644.0,283.3 1644.7,283.6 1645.4,283.8 1646.1,283.9 1646.9,284.0 1647.6,283.8 1648.3,283.5 1649.1,283.2 1649.8,283.5 1650.5,283.3 1651.3,283.1 1652.0,283.3 1652.7,283.6 1653.5,283.8 1654.2,283.4 1654.9,283.4 1655.6,283.7 1656.4,283.8 1657.1,284.1 1657.8,284.2 1658.6,284.1 1659.3,284.2 1660.0,284.3 1660.8,284.5 1661.5,284.3 1662.2,284.5 1662.9,284.4 1663.7,284.7 1664.4,284.4 1665.1,284.7 1665.9,284.4 1666.6,284.3 1667.3,283.9 1668.1,284.0 1668.8,284.1 1669.5,284.2 1670.3,284.0 1671.0,283.8 1671.7,284.1 1672.4,283.9 1673.2,283.8 1673.9,283.5 1674.6,283.4 1675.4,283.6 1676.1,283.1 1676.8,283.2 1677.6,283.1 1678.3,282.9 1679.0,283.1 1679.8,283.1 1680.5,282.9 1681.2,282.7 1681.9,282.1 1682.7,281.7 1683.4,281.5 1684.1,281.0 1684.9,280.5 1685.6,280.5 1686.3,279.9 1687.1,279.9 1687.8,279.8 1688.5,279.2 1689.2,279.3 1690.0,278.7 1690.7,278.1 1691.4,277.6 1692.2,277.1 1692.9,276.8" fill="none" stroke="#f00" stroke-width="6" stroke-linejoin="round" shape-rendering="crispEdges"/>
<line x1="1300.5" y1="86" x2="1300.5" y2="496" stroke="#000" stroke-width="1.2" stroke-dasharray="5,2"/>
<text transform="translate(962.4 533.9) scale(1 1.04)" font-size="26.5" text-anchor="middle" letter-spacing="3">30</text>
<text transform="translate(1108.5 533.9) scale(1 1.04)" font-size="26.5" text-anchor="middle" letter-spacing="3">31</text>
<text transform="translate(1254.6 533.9) scale(1 1.04)" font-size="26.5" text-anchor="middle" letter-spacing="3">32</text>
<text transform="translate(1400.7 533.9) scale(1 1.04)" font-size="26.5" text-anchor="middle" letter-spacing="3">33</text>
<text transform="translate(1546.8 533.9) scale(1 1.04)" font-size="26.5" text-anchor="middle" letter-spacing="3">34</text>
<text transform="translate(1692.9 533.9) scale(1 1.04)" font-size="26.5" text-anchor="middle" letter-spacing="3">35</text>
<text transform="translate(1275.5 83)" font-size="35" text-anchor="start" letter-spacing="3.5">(110)</text>
<text transform="translate(1206.5 588) scale(1 1.04)" font-size="34" text-anchor="start">2</text>
<text transform="translate(1239.8 582.4) scale(1 1.03)" font-size="33" text-anchor="start">θ</text>
<text transform="translate(1274.4 588) scale(1 1.02)" font-size="34" text-anchor="start">(</text>
<text transform="translate(1310.8 588) scale(1 1.04)" font-size="34" text-anchor="start" letter-spacing="3.4">degrees</text>
<text transform="translate(1435.7 588)" font-size="25" text-anchor="start">)</text>
<text transform="translate(929.5 383.3) rotate(-90)" font-size="35" text-anchor="start" letter-spacing="2.75">Intensity(a.u.)</text>
</svg></body></html>
